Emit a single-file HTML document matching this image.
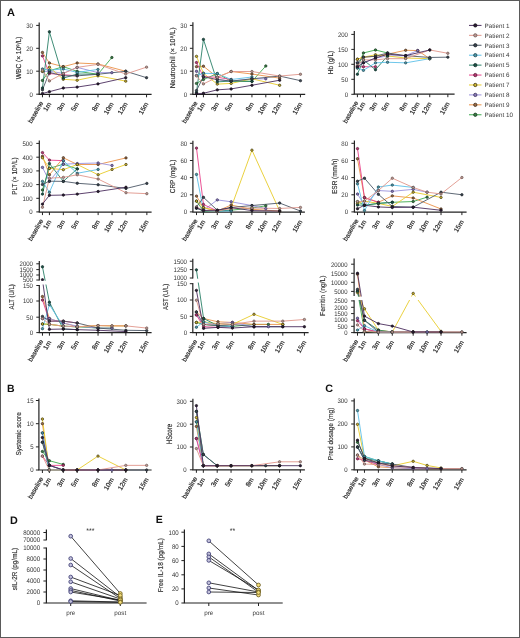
<!DOCTYPE html>
<html><head><meta charset="utf-8"><style>html,body{margin:0;padding:0;background:#fff;}body{position:relative;width:520px;height:638px;overflow:hidden;font-family:"Liberation Sans", sans-serif;}svg{display:block;will-change:transform;filter:blur(0.32px);}#frame{position:absolute;left:0;top:0;width:520px;height:638px;box-sizing:border-box;border:1px solid #5a5a5a;}</style></head><body>
<svg width="520" height="638" viewBox="0 0 520 638" font-family='"Liberation Sans", sans-serif' text-rendering="geometricPrecision">
<defs><clipPath id="clipALT"><rect x="0" y="0" width="520" height="280.8"/><rect x="0" y="284.6" width="520" height="60"/></clipPath><clipPath id="clipAST"><rect x="0" y="0" width="520" height="278.8"/><rect x="0" y="282.6" width="520" height="60"/></clipPath><clipPath id="clipFER"><rect x="0" y="0" width="520" height="296.6"/><rect x="0" y="300.0" width="520" height="60"/></clipPath></defs>
<rect x="0" y="0" width="520" height="638" fill="#fff"/>
<text x="7.00" y="15.90" font-size="11" text-anchor="start" font-weight="bold" fill="#111">A</text>
<text x="7.00" y="391.70" font-size="10.5" text-anchor="start" font-weight="bold" fill="#111">B</text>
<text x="325.30" y="392.20" font-size="10.8" text-anchor="start" font-weight="bold" fill="#111">C</text>
<text x="10.00" y="523.60" font-size="10.8" text-anchor="start" font-weight="bold" fill="#111">D</text>
<text x="155.80" y="523.00" font-size="10.5" text-anchor="start" font-weight="bold" fill="#111">E</text>
<line x1="39.20" y1="22.50" x2="39.20" y2="94.40" stroke="#222" stroke-width="1.2"/>
<line x1="38.60" y1="94.30" x2="151.60" y2="94.30" stroke="#222" stroke-width="1.2"/>
<line x1="36.20" y1="94.20" x2="39.20" y2="94.20" stroke="#222" stroke-width="1.0"/>
<text x="32.90" y="96.60" font-size="6.6" text-anchor="end" font-weight="normal" fill="#333" textLength="3.36" lengthAdjust="spacingAndGlyphs">0</text>
<line x1="36.20" y1="71.20" x2="39.20" y2="71.20" stroke="#222" stroke-width="1.0"/>
<text x="32.90" y="73.60" font-size="6.6" text-anchor="end" font-weight="normal" fill="#333" textLength="6.73" lengthAdjust="spacingAndGlyphs">10</text>
<line x1="36.20" y1="48.30" x2="39.20" y2="48.30" stroke="#222" stroke-width="1.0"/>
<text x="32.90" y="50.70" font-size="6.6" text-anchor="end" font-weight="normal" fill="#333" textLength="6.73" lengthAdjust="spacingAndGlyphs">20</text>
<line x1="36.20" y1="25.40" x2="39.20" y2="25.40" stroke="#222" stroke-width="1.0"/>
<text x="32.90" y="27.80" font-size="6.6" text-anchor="end" font-weight="normal" fill="#333" textLength="6.73" lengthAdjust="spacingAndGlyphs">30</text>
<line x1="42.46" y1="94.30" x2="42.46" y2="97.30" stroke="#222" stroke-width="1.0"/>
<text x="43.66" y="102.80" font-size="6.5" text-anchor="end" font-weight="normal" fill="#262626" transform="rotate(-60 43.66 102.80)" stroke="#262626" stroke-width="0.2">baseline</text>
<line x1="49.40" y1="94.30" x2="49.40" y2="97.30" stroke="#222" stroke-width="1.0"/>
<text x="51.40" y="103.90" font-size="6.6" text-anchor="end" font-weight="normal" fill="#262626" transform="rotate(-60 51.40 103.90)" stroke="#262626" stroke-width="0.2">1m</text>
<line x1="63.28" y1="94.30" x2="63.28" y2="97.30" stroke="#222" stroke-width="1.0"/>
<text x="65.28" y="103.90" font-size="6.6" text-anchor="end" font-weight="normal" fill="#262626" transform="rotate(-60 65.28 103.90)" stroke="#262626" stroke-width="0.2">3m</text>
<line x1="77.16" y1="94.30" x2="77.16" y2="97.30" stroke="#222" stroke-width="1.0"/>
<text x="79.16" y="103.90" font-size="6.6" text-anchor="end" font-weight="normal" fill="#262626" transform="rotate(-60 79.16 103.90)" stroke="#262626" stroke-width="0.2">5m</text>
<line x1="97.98" y1="94.30" x2="97.98" y2="97.30" stroke="#222" stroke-width="1.0"/>
<text x="99.98" y="103.90" font-size="6.6" text-anchor="end" font-weight="normal" fill="#262626" transform="rotate(-60 99.98 103.90)" stroke="#262626" stroke-width="0.2">8m</text>
<line x1="111.86" y1="94.30" x2="111.86" y2="97.30" stroke="#222" stroke-width="1.0"/>
<text x="113.86" y="103.90" font-size="6.6" text-anchor="end" font-weight="normal" fill="#262626" transform="rotate(-60 113.86 103.90)" stroke="#262626" stroke-width="0.2">10m</text>
<line x1="125.74" y1="94.30" x2="125.74" y2="97.30" stroke="#222" stroke-width="1.0"/>
<text x="127.74" y="103.90" font-size="6.6" text-anchor="end" font-weight="normal" fill="#262626" transform="rotate(-60 127.74 103.90)" stroke="#262626" stroke-width="0.2">12m</text>
<line x1="146.56" y1="94.30" x2="146.56" y2="97.30" stroke="#222" stroke-width="1.0"/>
<text x="148.56" y="103.90" font-size="6.6" text-anchor="end" font-weight="normal" fill="#262626" transform="rotate(-60 148.56 103.90)" stroke="#262626" stroke-width="0.2">15m</text>
<text class="yl" x="21.40" y="57.80" font-size="7.2" text-anchor="middle" fill="#2e2e2e" stroke="#2e2e2e" stroke-width="0.16" textLength="42.70" lengthAdjust="spacingAndGlyphs" transform="rotate(-90 21.40 57.80)">WBC (× 10⁹/L)</text>
<path d="M42.46,80.44 L49.40,70.81 L63.28,66.68 L77.16,71.27 L97.98,74.25 L111.86,57.51" fill="none" stroke="#3eaa4e" stroke-width="0.9"/>
<path d="M42.46,52.46 L49.40,63.01 L63.28,66.68 L77.16,63.01 L97.98,63.93 L125.74,71.27" fill="none" stroke="#eb9248" stroke-width="0.9"/>
<path d="M42.46,71.50 L49.40,71.27 L63.28,73.33 L77.16,67.37 L97.98,72.64 L111.86,72.64" fill="none" stroke="#9a92dc" stroke-width="0.9"/>
<path d="M42.46,71.27 L49.40,67.14 L63.28,79.29 L77.16,80.21 L97.98,75.85 L125.74,81.13" fill="none" stroke="#e8cc2a" stroke-width="0.9"/>
<path d="M42.46,55.90 L49.40,73.56 L63.28,74.71 L77.16,75.85" fill="none" stroke="#e8418a" stroke-width="0.9"/>
<path d="M42.46,88.01 L49.40,31.82 L63.28,78.15 L77.16,74.02 L97.98,74.25" fill="none" stroke="#2a8068" stroke-width="0.9"/>
<path d="M42.46,68.97 L49.40,70.12 L63.28,68.97 L77.16,72.41 L97.98,69.43" fill="none" stroke="#5cc0e8" stroke-width="0.9"/>
<path d="M42.46,89.84 L49.40,72.41 L63.28,75.85 L77.16,75.85 L97.98,74.25 L125.74,71.27 L146.56,77.69" fill="none" stroke="#4d5866" stroke-width="0.9"/>
<path d="M42.46,70.12 L49.40,80.90 L63.28,73.56 L77.16,67.37 L97.98,64.39 L125.74,74.02 L146.56,67.14" fill="none" stroke="#e0958a" stroke-width="0.9"/>
<path d="M42.46,93.51 L49.40,91.68 L63.28,88.01 L77.16,87.09 L97.98,83.88 L125.74,77.69" fill="none" stroke="#4b2e5e" stroke-width="0.9"/>
<circle cx="42.46" cy="80.44" r="1.2" fill="#3c7c48" stroke="#173a1e" stroke-width="0.7"/>
<circle cx="49.40" cy="70.81" r="1.2" fill="#3c7c48" stroke="#173a1e" stroke-width="0.7"/>
<circle cx="63.28" cy="66.68" r="1.2" fill="#3c7c48" stroke="#173a1e" stroke-width="0.7"/>
<circle cx="77.16" cy="71.27" r="1.2" fill="#3c7c48" stroke="#173a1e" stroke-width="0.7"/>
<circle cx="97.98" cy="74.25" r="1.2" fill="#3c7c48" stroke="#173a1e" stroke-width="0.7"/>
<circle cx="111.86" cy="57.51" r="1.2" fill="#3c7c48" stroke="#173a1e" stroke-width="0.7"/>
<circle cx="42.46" cy="52.46" r="1.2" fill="#9a6c48" stroke="#3e2a18" stroke-width="0.7"/>
<circle cx="49.40" cy="63.01" r="1.2" fill="#9a6c48" stroke="#3e2a18" stroke-width="0.7"/>
<circle cx="63.28" cy="66.68" r="1.2" fill="#9a6c48" stroke="#3e2a18" stroke-width="0.7"/>
<circle cx="77.16" cy="63.01" r="1.2" fill="#9a6c48" stroke="#3e2a18" stroke-width="0.7"/>
<circle cx="97.98" cy="63.93" r="1.2" fill="#9a6c48" stroke="#3e2a18" stroke-width="0.7"/>
<circle cx="125.74" cy="71.27" r="1.2" fill="#9a6c48" stroke="#3e2a18" stroke-width="0.7"/>
<circle cx="42.46" cy="71.50" r="1.2" fill="#8a7cb4" stroke="#3a3060" stroke-width="0.7"/>
<circle cx="49.40" cy="71.27" r="1.2" fill="#8a7cb4" stroke="#3a3060" stroke-width="0.7"/>
<circle cx="63.28" cy="73.33" r="1.2" fill="#8a7cb4" stroke="#3a3060" stroke-width="0.7"/>
<circle cx="77.16" cy="67.37" r="1.2" fill="#8a7cb4" stroke="#3a3060" stroke-width="0.7"/>
<circle cx="97.98" cy="72.64" r="1.2" fill="#8a7cb4" stroke="#3a3060" stroke-width="0.7"/>
<circle cx="111.86" cy="72.64" r="1.2" fill="#8a7cb4" stroke="#3a3060" stroke-width="0.7"/>
<circle cx="42.46" cy="71.27" r="1.2" fill="#d2b832" stroke="#3a3210" stroke-width="0.7"/>
<circle cx="49.40" cy="67.14" r="1.2" fill="#d2b832" stroke="#3a3210" stroke-width="0.7"/>
<circle cx="63.28" cy="79.29" r="1.2" fill="#d2b832" stroke="#3a3210" stroke-width="0.7"/>
<circle cx="77.16" cy="80.21" r="1.2" fill="#d2b832" stroke="#3a3210" stroke-width="0.7"/>
<circle cx="97.98" cy="75.85" r="1.2" fill="#d2b832" stroke="#3a3210" stroke-width="0.7"/>
<circle cx="125.74" cy="81.13" r="1.2" fill="#d2b832" stroke="#3a3210" stroke-width="0.7"/>
<circle cx="42.46" cy="55.90" r="1.2" fill="#b43a72" stroke="#5a1535" stroke-width="0.7"/>
<circle cx="49.40" cy="73.56" r="1.2" fill="#b43a72" stroke="#5a1535" stroke-width="0.7"/>
<circle cx="63.28" cy="74.71" r="1.2" fill="#b43a72" stroke="#5a1535" stroke-width="0.7"/>
<circle cx="77.16" cy="75.85" r="1.2" fill="#b43a72" stroke="#5a1535" stroke-width="0.7"/>
<circle cx="42.46" cy="88.01" r="1.2" fill="#1e5248" stroke="#0d2a24" stroke-width="0.7"/>
<circle cx="49.40" cy="31.82" r="1.2" fill="#1e5248" stroke="#0d2a24" stroke-width="0.7"/>
<circle cx="63.28" cy="78.15" r="1.2" fill="#1e5248" stroke="#0d2a24" stroke-width="0.7"/>
<circle cx="77.16" cy="74.02" r="1.2" fill="#1e5248" stroke="#0d2a24" stroke-width="0.7"/>
<circle cx="97.98" cy="74.25" r="1.2" fill="#1e5248" stroke="#0d2a24" stroke-width="0.7"/>
<circle cx="42.46" cy="68.97" r="1.2" fill="#4f98a8" stroke="#1d4550" stroke-width="0.7"/>
<circle cx="49.40" cy="70.12" r="1.2" fill="#4f98a8" stroke="#1d4550" stroke-width="0.7"/>
<circle cx="63.28" cy="68.97" r="1.2" fill="#4f98a8" stroke="#1d4550" stroke-width="0.7"/>
<circle cx="77.16" cy="72.41" r="1.2" fill="#4f98a8" stroke="#1d4550" stroke-width="0.7"/>
<circle cx="97.98" cy="69.43" r="1.2" fill="#4f98a8" stroke="#1d4550" stroke-width="0.7"/>
<circle cx="42.46" cy="89.84" r="1.2" fill="#3b4550" stroke="#1c2228" stroke-width="0.7"/>
<circle cx="49.40" cy="72.41" r="1.2" fill="#3b4550" stroke="#1c2228" stroke-width="0.7"/>
<circle cx="63.28" cy="75.85" r="1.2" fill="#3b4550" stroke="#1c2228" stroke-width="0.7"/>
<circle cx="77.16" cy="75.85" r="1.2" fill="#3b4550" stroke="#1c2228" stroke-width="0.7"/>
<circle cx="97.98" cy="74.25" r="1.2" fill="#3b4550" stroke="#1c2228" stroke-width="0.7"/>
<circle cx="125.74" cy="71.27" r="1.2" fill="#3b4550" stroke="#1c2228" stroke-width="0.7"/>
<circle cx="146.56" cy="77.69" r="1.2" fill="#3b4550" stroke="#1c2228" stroke-width="0.7"/>
<circle cx="42.46" cy="70.12" r="1.2" fill="#b99a94" stroke="#6e5450" stroke-width="0.7"/>
<circle cx="49.40" cy="80.90" r="1.2" fill="#b99a94" stroke="#6e5450" stroke-width="0.7"/>
<circle cx="63.28" cy="73.56" r="1.2" fill="#b99a94" stroke="#6e5450" stroke-width="0.7"/>
<circle cx="77.16" cy="67.37" r="1.2" fill="#b99a94" stroke="#6e5450" stroke-width="0.7"/>
<circle cx="97.98" cy="64.39" r="1.2" fill="#b99a94" stroke="#6e5450" stroke-width="0.7"/>
<circle cx="125.74" cy="74.02" r="1.2" fill="#b99a94" stroke="#6e5450" stroke-width="0.7"/>
<circle cx="146.56" cy="67.14" r="1.2" fill="#b99a94" stroke="#6e5450" stroke-width="0.7"/>
<circle cx="42.46" cy="93.51" r="1.2" fill="#2b1d36" stroke="#151018" stroke-width="0.7"/>
<circle cx="49.40" cy="91.68" r="1.2" fill="#2b1d36" stroke="#151018" stroke-width="0.7"/>
<circle cx="63.28" cy="88.01" r="1.2" fill="#2b1d36" stroke="#151018" stroke-width="0.7"/>
<circle cx="77.16" cy="87.09" r="1.2" fill="#2b1d36" stroke="#151018" stroke-width="0.7"/>
<circle cx="97.98" cy="83.88" r="1.2" fill="#2b1d36" stroke="#151018" stroke-width="0.7"/>
<circle cx="125.74" cy="77.69" r="1.2" fill="#2b1d36" stroke="#151018" stroke-width="0.7"/>
<line x1="192.90" y1="22.30" x2="192.90" y2="94.40" stroke="#222" stroke-width="1.2"/>
<line x1="192.30" y1="94.30" x2="305.20" y2="94.30" stroke="#222" stroke-width="1.2"/>
<line x1="189.90" y1="94.20" x2="192.90" y2="94.20" stroke="#222" stroke-width="1.0"/>
<text x="187.10" y="96.60" font-size="6.6" text-anchor="end" font-weight="normal" fill="#333" textLength="3.36" lengthAdjust="spacingAndGlyphs">0</text>
<line x1="189.90" y1="71.20" x2="192.90" y2="71.20" stroke="#222" stroke-width="1.0"/>
<text x="187.10" y="73.60" font-size="6.6" text-anchor="end" font-weight="normal" fill="#333" textLength="6.73" lengthAdjust="spacingAndGlyphs">10</text>
<line x1="189.90" y1="48.30" x2="192.90" y2="48.30" stroke="#222" stroke-width="1.0"/>
<text x="187.10" y="50.70" font-size="6.6" text-anchor="end" font-weight="normal" fill="#333" textLength="6.73" lengthAdjust="spacingAndGlyphs">20</text>
<line x1="189.90" y1="25.40" x2="192.90" y2="25.40" stroke="#222" stroke-width="1.0"/>
<text x="187.10" y="27.80" font-size="6.6" text-anchor="end" font-weight="normal" fill="#333" textLength="6.73" lengthAdjust="spacingAndGlyphs">30</text>
<line x1="196.50" y1="94.30" x2="196.50" y2="97.30" stroke="#222" stroke-width="1.0"/>
<text x="197.70" y="102.80" font-size="6.5" text-anchor="end" font-weight="normal" fill="#262626" transform="rotate(-60 197.70 102.80)" stroke="#262626" stroke-width="0.2">baseline</text>
<line x1="203.43" y1="94.30" x2="203.43" y2="97.30" stroke="#222" stroke-width="1.0"/>
<text x="205.43" y="103.90" font-size="6.6" text-anchor="end" font-weight="normal" fill="#262626" transform="rotate(-60 205.43 103.90)" stroke="#262626" stroke-width="0.2">1m</text>
<line x1="217.29" y1="94.30" x2="217.29" y2="97.30" stroke="#222" stroke-width="1.0"/>
<text x="219.29" y="103.90" font-size="6.6" text-anchor="end" font-weight="normal" fill="#262626" transform="rotate(-60 219.29 103.90)" stroke="#262626" stroke-width="0.2">3m</text>
<line x1="231.15" y1="94.30" x2="231.15" y2="97.30" stroke="#222" stroke-width="1.0"/>
<text x="233.15" y="103.90" font-size="6.6" text-anchor="end" font-weight="normal" fill="#262626" transform="rotate(-60 233.15 103.90)" stroke="#262626" stroke-width="0.2">5m</text>
<line x1="251.94" y1="94.30" x2="251.94" y2="97.30" stroke="#222" stroke-width="1.0"/>
<text x="253.94" y="103.90" font-size="6.6" text-anchor="end" font-weight="normal" fill="#262626" transform="rotate(-60 253.94 103.90)" stroke="#262626" stroke-width="0.2">8m</text>
<line x1="265.80" y1="94.30" x2="265.80" y2="97.30" stroke="#222" stroke-width="1.0"/>
<text x="267.80" y="103.90" font-size="6.6" text-anchor="end" font-weight="normal" fill="#262626" transform="rotate(-60 267.80 103.90)" stroke="#262626" stroke-width="0.2">10m</text>
<line x1="279.66" y1="94.30" x2="279.66" y2="97.30" stroke="#222" stroke-width="1.0"/>
<text x="281.66" y="103.90" font-size="6.6" text-anchor="end" font-weight="normal" fill="#262626" transform="rotate(-60 281.66 103.90)" stroke="#262626" stroke-width="0.2">12m</text>
<line x1="300.45" y1="94.30" x2="300.45" y2="97.30" stroke="#222" stroke-width="1.0"/>
<text x="302.45" y="103.90" font-size="6.6" text-anchor="end" font-weight="normal" fill="#262626" transform="rotate(-60 302.45 103.90)" stroke="#262626" stroke-width="0.2">15m</text>
<text class="yl" x="174.90" y="57.85" font-size="7.2" text-anchor="middle" fill="#2e2e2e" stroke="#2e2e2e" stroke-width="0.16" textLength="60.60" lengthAdjust="spacingAndGlyphs" transform="rotate(-90 174.90 57.85)">Neutrophil (× 10⁹/L)</text>
<path d="M196.50,83.42 L203.43,79.52 L217.29,73.56 L231.15,81.13 L251.94,81.36 L265.80,65.99" fill="none" stroke="#3eaa4e" stroke-width="0.9"/>
<path d="M196.50,66.68 L203.43,66.22 L217.29,77.23 L231.15,71.50 L251.94,74.02 L279.66,78.15" fill="none" stroke="#eb9248" stroke-width="0.9"/>
<path d="M196.50,71.27 L203.43,76.77 L217.29,79.52 L231.15,81.13 L251.94,78.83 L265.80,78.83" fill="none" stroke="#9a92dc" stroke-width="0.9"/>
<path d="M196.50,56.36 L203.43,73.33 L217.29,84.11 L231.15,83.42 L251.94,78.83 L279.66,85.26" fill="none" stroke="#e8cc2a" stroke-width="0.9"/>
<path d="M196.50,62.55 L203.43,76.77 L217.29,77.23 L231.15,79.52" fill="none" stroke="#e8418a" stroke-width="0.9"/>
<path d="M196.50,92.37 L203.43,39.39 L217.29,81.82 L231.15,81.13 L251.94,81.36" fill="none" stroke="#2a8068" stroke-width="0.9"/>
<path d="M196.50,75.39 L203.43,73.33 L217.29,73.56 L231.15,79.52 L251.94,77.00" fill="none" stroke="#5cc0e8" stroke-width="0.9"/>
<path d="M196.50,90.53 L203.43,76.77 L217.29,79.52 L231.15,81.13 L251.94,78.83 L279.66,76.08 L300.45,80.67" fill="none" stroke="#4d5866" stroke-width="0.9"/>
<path d="M196.50,75.85 L203.43,83.88 L217.29,77.23 L231.15,71.50 L251.94,71.50 L279.66,76.08 L300.45,74.25" fill="none" stroke="#e0958a" stroke-width="0.9"/>
<path d="M196.50,93.74 L203.43,93.28 L217.29,89.84 L231.15,88.93 L251.94,85.26 L279.66,80.21" fill="none" stroke="#4b2e5e" stroke-width="0.9"/>
<circle cx="196.50" cy="83.42" r="1.2" fill="#3c7c48" stroke="#173a1e" stroke-width="0.7"/>
<circle cx="203.43" cy="79.52" r="1.2" fill="#3c7c48" stroke="#173a1e" stroke-width="0.7"/>
<circle cx="217.29" cy="73.56" r="1.2" fill="#3c7c48" stroke="#173a1e" stroke-width="0.7"/>
<circle cx="231.15" cy="81.13" r="1.2" fill="#3c7c48" stroke="#173a1e" stroke-width="0.7"/>
<circle cx="251.94" cy="81.36" r="1.2" fill="#3c7c48" stroke="#173a1e" stroke-width="0.7"/>
<circle cx="265.80" cy="65.99" r="1.2" fill="#3c7c48" stroke="#173a1e" stroke-width="0.7"/>
<circle cx="196.50" cy="66.68" r="1.2" fill="#9a6c48" stroke="#3e2a18" stroke-width="0.7"/>
<circle cx="203.43" cy="66.22" r="1.2" fill="#9a6c48" stroke="#3e2a18" stroke-width="0.7"/>
<circle cx="217.29" cy="77.23" r="1.2" fill="#9a6c48" stroke="#3e2a18" stroke-width="0.7"/>
<circle cx="231.15" cy="71.50" r="1.2" fill="#9a6c48" stroke="#3e2a18" stroke-width="0.7"/>
<circle cx="251.94" cy="74.02" r="1.2" fill="#9a6c48" stroke="#3e2a18" stroke-width="0.7"/>
<circle cx="279.66" cy="78.15" r="1.2" fill="#9a6c48" stroke="#3e2a18" stroke-width="0.7"/>
<circle cx="196.50" cy="71.27" r="1.2" fill="#8a7cb4" stroke="#3a3060" stroke-width="0.7"/>
<circle cx="203.43" cy="76.77" r="1.2" fill="#8a7cb4" stroke="#3a3060" stroke-width="0.7"/>
<circle cx="217.29" cy="79.52" r="1.2" fill="#8a7cb4" stroke="#3a3060" stroke-width="0.7"/>
<circle cx="231.15" cy="81.13" r="1.2" fill="#8a7cb4" stroke="#3a3060" stroke-width="0.7"/>
<circle cx="251.94" cy="78.83" r="1.2" fill="#8a7cb4" stroke="#3a3060" stroke-width="0.7"/>
<circle cx="265.80" cy="78.83" r="1.2" fill="#8a7cb4" stroke="#3a3060" stroke-width="0.7"/>
<circle cx="196.50" cy="56.36" r="1.2" fill="#d2b832" stroke="#3a3210" stroke-width="0.7"/>
<circle cx="203.43" cy="73.33" r="1.2" fill="#d2b832" stroke="#3a3210" stroke-width="0.7"/>
<circle cx="217.29" cy="84.11" r="1.2" fill="#d2b832" stroke="#3a3210" stroke-width="0.7"/>
<circle cx="231.15" cy="83.42" r="1.2" fill="#d2b832" stroke="#3a3210" stroke-width="0.7"/>
<circle cx="251.94" cy="78.83" r="1.2" fill="#d2b832" stroke="#3a3210" stroke-width="0.7"/>
<circle cx="279.66" cy="85.26" r="1.2" fill="#d2b832" stroke="#3a3210" stroke-width="0.7"/>
<circle cx="196.50" cy="62.55" r="1.2" fill="#b43a72" stroke="#5a1535" stroke-width="0.7"/>
<circle cx="203.43" cy="76.77" r="1.2" fill="#b43a72" stroke="#5a1535" stroke-width="0.7"/>
<circle cx="217.29" cy="77.23" r="1.2" fill="#b43a72" stroke="#5a1535" stroke-width="0.7"/>
<circle cx="231.15" cy="79.52" r="1.2" fill="#b43a72" stroke="#5a1535" stroke-width="0.7"/>
<circle cx="196.50" cy="92.37" r="1.2" fill="#1e5248" stroke="#0d2a24" stroke-width="0.7"/>
<circle cx="203.43" cy="39.39" r="1.2" fill="#1e5248" stroke="#0d2a24" stroke-width="0.7"/>
<circle cx="217.29" cy="81.82" r="1.2" fill="#1e5248" stroke="#0d2a24" stroke-width="0.7"/>
<circle cx="231.15" cy="81.13" r="1.2" fill="#1e5248" stroke="#0d2a24" stroke-width="0.7"/>
<circle cx="251.94" cy="81.36" r="1.2" fill="#1e5248" stroke="#0d2a24" stroke-width="0.7"/>
<circle cx="196.50" cy="75.39" r="1.2" fill="#4f98a8" stroke="#1d4550" stroke-width="0.7"/>
<circle cx="203.43" cy="73.33" r="1.2" fill="#4f98a8" stroke="#1d4550" stroke-width="0.7"/>
<circle cx="217.29" cy="73.56" r="1.2" fill="#4f98a8" stroke="#1d4550" stroke-width="0.7"/>
<circle cx="231.15" cy="79.52" r="1.2" fill="#4f98a8" stroke="#1d4550" stroke-width="0.7"/>
<circle cx="251.94" cy="77.00" r="1.2" fill="#4f98a8" stroke="#1d4550" stroke-width="0.7"/>
<circle cx="196.50" cy="90.53" r="1.2" fill="#3b4550" stroke="#1c2228" stroke-width="0.7"/>
<circle cx="203.43" cy="76.77" r="1.2" fill="#3b4550" stroke="#1c2228" stroke-width="0.7"/>
<circle cx="217.29" cy="79.52" r="1.2" fill="#3b4550" stroke="#1c2228" stroke-width="0.7"/>
<circle cx="231.15" cy="81.13" r="1.2" fill="#3b4550" stroke="#1c2228" stroke-width="0.7"/>
<circle cx="251.94" cy="78.83" r="1.2" fill="#3b4550" stroke="#1c2228" stroke-width="0.7"/>
<circle cx="279.66" cy="76.08" r="1.2" fill="#3b4550" stroke="#1c2228" stroke-width="0.7"/>
<circle cx="300.45" cy="80.67" r="1.2" fill="#3b4550" stroke="#1c2228" stroke-width="0.7"/>
<circle cx="196.50" cy="75.85" r="1.2" fill="#b99a94" stroke="#6e5450" stroke-width="0.7"/>
<circle cx="203.43" cy="83.88" r="1.2" fill="#b99a94" stroke="#6e5450" stroke-width="0.7"/>
<circle cx="217.29" cy="77.23" r="1.2" fill="#b99a94" stroke="#6e5450" stroke-width="0.7"/>
<circle cx="231.15" cy="71.50" r="1.2" fill="#b99a94" stroke="#6e5450" stroke-width="0.7"/>
<circle cx="251.94" cy="71.50" r="1.2" fill="#b99a94" stroke="#6e5450" stroke-width="0.7"/>
<circle cx="279.66" cy="76.08" r="1.2" fill="#b99a94" stroke="#6e5450" stroke-width="0.7"/>
<circle cx="300.45" cy="74.25" r="1.2" fill="#b99a94" stroke="#6e5450" stroke-width="0.7"/>
<circle cx="196.50" cy="93.74" r="1.2" fill="#2b1d36" stroke="#151018" stroke-width="0.7"/>
<circle cx="203.43" cy="93.28" r="1.2" fill="#2b1d36" stroke="#151018" stroke-width="0.7"/>
<circle cx="217.29" cy="89.84" r="1.2" fill="#2b1d36" stroke="#151018" stroke-width="0.7"/>
<circle cx="231.15" cy="88.93" r="1.2" fill="#2b1d36" stroke="#151018" stroke-width="0.7"/>
<circle cx="251.94" cy="85.26" r="1.2" fill="#2b1d36" stroke="#151018" stroke-width="0.7"/>
<circle cx="279.66" cy="80.21" r="1.2" fill="#2b1d36" stroke="#151018" stroke-width="0.7"/>
<line x1="354.30" y1="31.00" x2="354.30" y2="94.30" stroke="#222" stroke-width="1.2"/>
<line x1="353.70" y1="94.20" x2="454.60" y2="94.20" stroke="#222" stroke-width="1.2"/>
<line x1="351.30" y1="94.30" x2="354.30" y2="94.30" stroke="#222" stroke-width="1.0"/>
<text x="348.00" y="96.70" font-size="6.6" text-anchor="end" font-weight="normal" fill="#333" textLength="3.36" lengthAdjust="spacingAndGlyphs">0</text>
<line x1="351.30" y1="79.30" x2="354.30" y2="79.30" stroke="#222" stroke-width="1.0"/>
<text x="348.00" y="81.70" font-size="6.6" text-anchor="end" font-weight="normal" fill="#333" textLength="6.73" lengthAdjust="spacingAndGlyphs">50</text>
<line x1="351.30" y1="64.30" x2="354.30" y2="64.30" stroke="#222" stroke-width="1.0"/>
<text x="348.00" y="66.70" font-size="6.6" text-anchor="end" font-weight="normal" fill="#333" textLength="10.09" lengthAdjust="spacingAndGlyphs">100</text>
<line x1="351.30" y1="49.40" x2="354.30" y2="49.40" stroke="#222" stroke-width="1.0"/>
<text x="348.00" y="51.80" font-size="6.6" text-anchor="end" font-weight="normal" fill="#333" textLength="10.09" lengthAdjust="spacingAndGlyphs">150</text>
<line x1="351.30" y1="34.40" x2="354.30" y2="34.40" stroke="#222" stroke-width="1.0"/>
<text x="348.00" y="36.80" font-size="6.6" text-anchor="end" font-weight="normal" fill="#333" textLength="10.09" lengthAdjust="spacingAndGlyphs">200</text>
<line x1="357.40" y1="94.20" x2="357.40" y2="97.20" stroke="#222" stroke-width="1.0"/>
<text x="358.60" y="102.70" font-size="6.5" text-anchor="end" font-weight="normal" fill="#262626" transform="rotate(-60 358.60 102.70)" stroke="#262626" stroke-width="0.2">baseline</text>
<line x1="363.43" y1="94.20" x2="363.43" y2="97.20" stroke="#222" stroke-width="1.0"/>
<text x="365.43" y="103.80" font-size="6.6" text-anchor="end" font-weight="normal" fill="#262626" transform="rotate(-60 365.43 103.80)" stroke="#262626" stroke-width="0.2">1m</text>
<line x1="375.49" y1="94.20" x2="375.49" y2="97.20" stroke="#222" stroke-width="1.0"/>
<text x="377.49" y="103.80" font-size="6.6" text-anchor="end" font-weight="normal" fill="#262626" transform="rotate(-60 377.49 103.80)" stroke="#262626" stroke-width="0.2">3m</text>
<line x1="387.55" y1="94.20" x2="387.55" y2="97.20" stroke="#222" stroke-width="1.0"/>
<text x="389.55" y="103.80" font-size="6.6" text-anchor="end" font-weight="normal" fill="#262626" transform="rotate(-60 389.55 103.80)" stroke="#262626" stroke-width="0.2">5m</text>
<line x1="405.64" y1="94.20" x2="405.64" y2="97.20" stroke="#222" stroke-width="1.0"/>
<text x="407.64" y="103.80" font-size="6.6" text-anchor="end" font-weight="normal" fill="#262626" transform="rotate(-60 407.64 103.80)" stroke="#262626" stroke-width="0.2">8m</text>
<line x1="417.70" y1="94.20" x2="417.70" y2="97.20" stroke="#222" stroke-width="1.0"/>
<text x="419.70" y="103.80" font-size="6.6" text-anchor="end" font-weight="normal" fill="#262626" transform="rotate(-60 419.70 103.80)" stroke="#262626" stroke-width="0.2">10m</text>
<line x1="429.76" y1="94.20" x2="429.76" y2="97.20" stroke="#222" stroke-width="1.0"/>
<text x="431.76" y="103.80" font-size="6.6" text-anchor="end" font-weight="normal" fill="#262626" transform="rotate(-60 431.76 103.80)" stroke="#262626" stroke-width="0.2">12m</text>
<line x1="447.85" y1="94.20" x2="447.85" y2="97.20" stroke="#222" stroke-width="1.0"/>
<text x="449.85" y="103.80" font-size="6.6" text-anchor="end" font-weight="normal" fill="#262626" transform="rotate(-60 449.85 103.80)" stroke="#262626" stroke-width="0.2">15m</text>
<text class="yl" x="333.00" y="62.55" font-size="7.2" text-anchor="middle" fill="#2e2e2e" stroke="#2e2e2e" stroke-width="0.16" textLength="23.40" lengthAdjust="spacingAndGlyphs" transform="rotate(-90 333.00 62.55)">Hb (g/L)</text>
<path d="M357.40,67.94 L363.43,52.97 L375.49,49.97 L387.55,52.97" fill="none" stroke="#3eaa4e" stroke-width="0.9"/>
<path d="M357.40,59.26 L363.43,57.16 L375.49,56.26 L387.55,54.17 L405.64,50.27 L417.70,50.57 L429.76,58.66" fill="none" stroke="#eb9248" stroke-width="0.9"/>
<path d="M357.40,62.85 L363.43,62.85 L375.49,58.06 L387.55,55.96 L405.64,55.66 L417.70,50.57" fill="none" stroke="#9a92dc" stroke-width="0.9"/>
<path d="M357.40,59.26 L363.43,57.16 L375.49,54.77 L387.55,55.96 L405.64,58.06 L429.76,58.66" fill="none" stroke="#e8cc2a" stroke-width="0.9"/>
<path d="M357.40,66.75 L363.43,66.75 L375.49,66.75" fill="none" stroke="#e8418a" stroke-width="0.9"/>
<path d="M357.40,74.23 L363.43,59.86 L375.49,69.74 L387.55,55.96" fill="none" stroke="#2a8068" stroke-width="0.9"/>
<path d="M357.40,67.94 L363.43,70.34 L375.49,62.85 L387.55,62.25 L405.64,62.85 L429.76,58.66" fill="none" stroke="#5cc0e8" stroke-width="0.9"/>
<path d="M357.40,62.85 L363.43,57.16 L375.49,56.26 L387.55,52.97 L405.64,55.66 L429.76,57.46 L447.85,57.16" fill="none" stroke="#4d5866" stroke-width="0.9"/>
<path d="M357.40,65.55 L363.43,59.86 L375.49,59.86 L387.55,58.66 L405.64,58.66 L429.76,49.97 L447.85,53.27" fill="none" stroke="#e0958a" stroke-width="0.9"/>
<path d="M357.40,66.75 L363.43,62.85 L375.49,58.06 L387.55,54.17 L405.64,55.66 L429.76,49.97" fill="none" stroke="#4b2e5e" stroke-width="0.9"/>
<circle cx="357.40" cy="67.94" r="1.2" fill="#3c7c48" stroke="#173a1e" stroke-width="0.7"/>
<circle cx="363.43" cy="52.97" r="1.2" fill="#3c7c48" stroke="#173a1e" stroke-width="0.7"/>
<circle cx="375.49" cy="49.97" r="1.2" fill="#3c7c48" stroke="#173a1e" stroke-width="0.7"/>
<circle cx="387.55" cy="52.97" r="1.2" fill="#3c7c48" stroke="#173a1e" stroke-width="0.7"/>
<circle cx="357.40" cy="59.26" r="1.2" fill="#9a6c48" stroke="#3e2a18" stroke-width="0.7"/>
<circle cx="363.43" cy="57.16" r="1.2" fill="#9a6c48" stroke="#3e2a18" stroke-width="0.7"/>
<circle cx="375.49" cy="56.26" r="1.2" fill="#9a6c48" stroke="#3e2a18" stroke-width="0.7"/>
<circle cx="387.55" cy="54.17" r="1.2" fill="#9a6c48" stroke="#3e2a18" stroke-width="0.7"/>
<circle cx="405.64" cy="50.27" r="1.2" fill="#9a6c48" stroke="#3e2a18" stroke-width="0.7"/>
<circle cx="417.70" cy="50.57" r="1.2" fill="#9a6c48" stroke="#3e2a18" stroke-width="0.7"/>
<circle cx="429.76" cy="58.66" r="1.2" fill="#9a6c48" stroke="#3e2a18" stroke-width="0.7"/>
<circle cx="357.40" cy="62.85" r="1.2" fill="#8a7cb4" stroke="#3a3060" stroke-width="0.7"/>
<circle cx="363.43" cy="62.85" r="1.2" fill="#8a7cb4" stroke="#3a3060" stroke-width="0.7"/>
<circle cx="375.49" cy="58.06" r="1.2" fill="#8a7cb4" stroke="#3a3060" stroke-width="0.7"/>
<circle cx="387.55" cy="55.96" r="1.2" fill="#8a7cb4" stroke="#3a3060" stroke-width="0.7"/>
<circle cx="405.64" cy="55.66" r="1.2" fill="#8a7cb4" stroke="#3a3060" stroke-width="0.7"/>
<circle cx="417.70" cy="50.57" r="1.2" fill="#8a7cb4" stroke="#3a3060" stroke-width="0.7"/>
<circle cx="357.40" cy="59.26" r="1.2" fill="#d2b832" stroke="#3a3210" stroke-width="0.7"/>
<circle cx="363.43" cy="57.16" r="1.2" fill="#d2b832" stroke="#3a3210" stroke-width="0.7"/>
<circle cx="375.49" cy="54.77" r="1.2" fill="#d2b832" stroke="#3a3210" stroke-width="0.7"/>
<circle cx="387.55" cy="55.96" r="1.2" fill="#d2b832" stroke="#3a3210" stroke-width="0.7"/>
<circle cx="405.64" cy="58.06" r="1.2" fill="#d2b832" stroke="#3a3210" stroke-width="0.7"/>
<circle cx="429.76" cy="58.66" r="1.2" fill="#d2b832" stroke="#3a3210" stroke-width="0.7"/>
<circle cx="357.40" cy="66.75" r="1.2" fill="#b43a72" stroke="#5a1535" stroke-width="0.7"/>
<circle cx="363.43" cy="66.75" r="1.2" fill="#b43a72" stroke="#5a1535" stroke-width="0.7"/>
<circle cx="375.49" cy="66.75" r="1.2" fill="#b43a72" stroke="#5a1535" stroke-width="0.7"/>
<circle cx="357.40" cy="74.23" r="1.2" fill="#1e5248" stroke="#0d2a24" stroke-width="0.7"/>
<circle cx="363.43" cy="59.86" r="1.2" fill="#1e5248" stroke="#0d2a24" stroke-width="0.7"/>
<circle cx="375.49" cy="69.74" r="1.2" fill="#1e5248" stroke="#0d2a24" stroke-width="0.7"/>
<circle cx="387.55" cy="55.96" r="1.2" fill="#1e5248" stroke="#0d2a24" stroke-width="0.7"/>
<circle cx="357.40" cy="67.94" r="1.2" fill="#4f98a8" stroke="#1d4550" stroke-width="0.7"/>
<circle cx="363.43" cy="70.34" r="1.2" fill="#4f98a8" stroke="#1d4550" stroke-width="0.7"/>
<circle cx="375.49" cy="62.85" r="1.2" fill="#4f98a8" stroke="#1d4550" stroke-width="0.7"/>
<circle cx="387.55" cy="62.25" r="1.2" fill="#4f98a8" stroke="#1d4550" stroke-width="0.7"/>
<circle cx="405.64" cy="62.85" r="1.2" fill="#4f98a8" stroke="#1d4550" stroke-width="0.7"/>
<circle cx="429.76" cy="58.66" r="1.2" fill="#4f98a8" stroke="#1d4550" stroke-width="0.7"/>
<circle cx="357.40" cy="62.85" r="1.2" fill="#3b4550" stroke="#1c2228" stroke-width="0.7"/>
<circle cx="363.43" cy="57.16" r="1.2" fill="#3b4550" stroke="#1c2228" stroke-width="0.7"/>
<circle cx="375.49" cy="56.26" r="1.2" fill="#3b4550" stroke="#1c2228" stroke-width="0.7"/>
<circle cx="387.55" cy="52.97" r="1.2" fill="#3b4550" stroke="#1c2228" stroke-width="0.7"/>
<circle cx="405.64" cy="55.66" r="1.2" fill="#3b4550" stroke="#1c2228" stroke-width="0.7"/>
<circle cx="429.76" cy="57.46" r="1.2" fill="#3b4550" stroke="#1c2228" stroke-width="0.7"/>
<circle cx="447.85" cy="57.16" r="1.2" fill="#3b4550" stroke="#1c2228" stroke-width="0.7"/>
<circle cx="357.40" cy="65.55" r="1.2" fill="#b99a94" stroke="#6e5450" stroke-width="0.7"/>
<circle cx="363.43" cy="59.86" r="1.2" fill="#b99a94" stroke="#6e5450" stroke-width="0.7"/>
<circle cx="375.49" cy="59.86" r="1.2" fill="#b99a94" stroke="#6e5450" stroke-width="0.7"/>
<circle cx="387.55" cy="58.66" r="1.2" fill="#b99a94" stroke="#6e5450" stroke-width="0.7"/>
<circle cx="405.64" cy="58.66" r="1.2" fill="#b99a94" stroke="#6e5450" stroke-width="0.7"/>
<circle cx="429.76" cy="49.97" r="1.2" fill="#b99a94" stroke="#6e5450" stroke-width="0.7"/>
<circle cx="447.85" cy="53.27" r="1.2" fill="#b99a94" stroke="#6e5450" stroke-width="0.7"/>
<circle cx="357.40" cy="66.75" r="1.2" fill="#2b1d36" stroke="#151018" stroke-width="0.7"/>
<circle cx="363.43" cy="62.85" r="1.2" fill="#2b1d36" stroke="#151018" stroke-width="0.7"/>
<circle cx="375.49" cy="58.06" r="1.2" fill="#2b1d36" stroke="#151018" stroke-width="0.7"/>
<circle cx="387.55" cy="54.17" r="1.2" fill="#2b1d36" stroke="#151018" stroke-width="0.7"/>
<circle cx="405.64" cy="55.66" r="1.2" fill="#2b1d36" stroke="#151018" stroke-width="0.7"/>
<circle cx="429.76" cy="49.97" r="1.2" fill="#2b1d36" stroke="#151018" stroke-width="0.7"/>
<line x1="39.30" y1="140.40" x2="39.30" y2="211.90" stroke="#222" stroke-width="1.2"/>
<line x1="38.70" y1="212.10" x2="151.60" y2="212.10" stroke="#222" stroke-width="1.2"/>
<line x1="36.30" y1="211.90" x2="39.30" y2="211.90" stroke="#222" stroke-width="1.0"/>
<text x="32.60" y="214.30" font-size="6.6" text-anchor="end" font-weight="normal" fill="#333" textLength="3.36" lengthAdjust="spacingAndGlyphs">0</text>
<line x1="36.30" y1="198.30" x2="39.30" y2="198.30" stroke="#222" stroke-width="1.0"/>
<text x="32.60" y="200.70" font-size="6.6" text-anchor="end" font-weight="normal" fill="#333" textLength="10.09" lengthAdjust="spacingAndGlyphs">100</text>
<line x1="36.30" y1="184.60" x2="39.30" y2="184.60" stroke="#222" stroke-width="1.0"/>
<text x="32.60" y="187.00" font-size="6.6" text-anchor="end" font-weight="normal" fill="#333" textLength="10.09" lengthAdjust="spacingAndGlyphs">200</text>
<line x1="36.30" y1="170.90" x2="39.30" y2="170.90" stroke="#222" stroke-width="1.0"/>
<text x="32.60" y="173.30" font-size="6.6" text-anchor="end" font-weight="normal" fill="#333" textLength="10.09" lengthAdjust="spacingAndGlyphs">300</text>
<line x1="36.30" y1="157.20" x2="39.30" y2="157.20" stroke="#222" stroke-width="1.0"/>
<text x="32.60" y="159.60" font-size="6.6" text-anchor="end" font-weight="normal" fill="#333" textLength="10.09" lengthAdjust="spacingAndGlyphs">400</text>
<line x1="36.30" y1="143.40" x2="39.30" y2="143.40" stroke="#222" stroke-width="1.0"/>
<text x="32.60" y="145.80" font-size="6.6" text-anchor="end" font-weight="normal" fill="#333" textLength="10.09" lengthAdjust="spacingAndGlyphs">500</text>
<line x1="42.46" y1="212.10" x2="42.46" y2="215.10" stroke="#222" stroke-width="1.0"/>
<text x="43.66" y="220.60" font-size="6.5" text-anchor="end" font-weight="normal" fill="#262626" transform="rotate(-60 43.66 220.60)" stroke="#262626" stroke-width="0.2">baseline</text>
<line x1="49.42" y1="212.10" x2="49.42" y2="215.10" stroke="#222" stroke-width="1.0"/>
<text x="51.42" y="221.70" font-size="6.6" text-anchor="end" font-weight="normal" fill="#262626" transform="rotate(-60 51.42 221.70)" stroke="#262626" stroke-width="0.2">1m</text>
<line x1="63.34" y1="212.10" x2="63.34" y2="215.10" stroke="#222" stroke-width="1.0"/>
<text x="65.34" y="221.70" font-size="6.6" text-anchor="end" font-weight="normal" fill="#262626" transform="rotate(-60 65.34 221.70)" stroke="#262626" stroke-width="0.2">3m</text>
<line x1="77.26" y1="212.10" x2="77.26" y2="215.10" stroke="#222" stroke-width="1.0"/>
<text x="79.26" y="221.70" font-size="6.6" text-anchor="end" font-weight="normal" fill="#262626" transform="rotate(-60 79.26 221.70)" stroke="#262626" stroke-width="0.2">5m</text>
<line x1="98.14" y1="212.10" x2="98.14" y2="215.10" stroke="#222" stroke-width="1.0"/>
<text x="100.14" y="221.70" font-size="6.6" text-anchor="end" font-weight="normal" fill="#262626" transform="rotate(-60 100.14 221.70)" stroke="#262626" stroke-width="0.2">8m</text>
<line x1="112.06" y1="212.10" x2="112.06" y2="215.10" stroke="#222" stroke-width="1.0"/>
<text x="114.06" y="221.70" font-size="6.6" text-anchor="end" font-weight="normal" fill="#262626" transform="rotate(-60 114.06 221.70)" stroke="#262626" stroke-width="0.2">10m</text>
<line x1="125.98" y1="212.10" x2="125.98" y2="215.10" stroke="#222" stroke-width="1.0"/>
<text x="127.98" y="221.70" font-size="6.6" text-anchor="end" font-weight="normal" fill="#262626" transform="rotate(-60 127.98 221.70)" stroke="#262626" stroke-width="0.2">12m</text>
<line x1="146.86" y1="212.10" x2="146.86" y2="215.10" stroke="#222" stroke-width="1.0"/>
<text x="148.86" y="221.70" font-size="6.6" text-anchor="end" font-weight="normal" fill="#262626" transform="rotate(-60 148.86 221.70)" stroke="#262626" stroke-width="0.2">15m</text>
<text class="yl" x="17.20" y="176.10" font-size="7.2" text-anchor="middle" fill="#2e2e2e" stroke="#2e2e2e" stroke-width="0.16" textLength="37.30" lengthAdjust="spacingAndGlyphs" transform="rotate(-90 17.20 176.10)">PLT (× 10⁹/L)</text>
<path d="M42.46,189.98 L49.42,168.33 L63.34,164.22 L77.26,168.88" fill="none" stroke="#3eaa4e" stroke-width="0.9"/>
<path d="M42.46,156.28 L49.42,174.77 L63.34,157.78 L77.26,164.50 L98.14,164.50 L125.98,157.92" fill="none" stroke="#eb9248" stroke-width="0.9"/>
<path d="M42.46,167.38 L49.42,181.21 L63.34,164.22 L77.26,163.54 L98.14,162.99 L112.06,165.46" fill="none" stroke="#9a92dc" stroke-width="0.9"/>
<path d="M42.46,157.78 L49.42,168.33 L63.34,169.70 L77.26,164.50 L98.14,174.77 L112.06,169.43 L125.98,164.50" fill="none" stroke="#e8cc2a" stroke-width="0.9"/>
<path d="M42.46,152.58 L49.42,160.11 L63.34,160.66" fill="none" stroke="#e8418a" stroke-width="0.9"/>
<path d="M42.46,194.09 L49.42,163.54 L63.34,181.35 L77.26,168.88" fill="none" stroke="#2a8068" stroke-width="0.9"/>
<path d="M42.46,181.35 L49.42,192.31 L63.34,160.66 L77.26,173.27 L98.14,169.43" fill="none" stroke="#5cc0e8" stroke-width="0.9"/>
<path d="M42.46,184.50 L49.42,181.21 L63.34,181.35 L77.26,183.27 L98.14,184.77 L125.98,188.47 L146.86,183.40" fill="none" stroke="#4d5866" stroke-width="0.9"/>
<path d="M42.46,207.24 L49.42,178.20 L63.34,177.38 L77.26,174.77 L98.14,179.02 L125.98,192.72 L146.86,193.68" fill="none" stroke="#e0958a" stroke-width="0.9"/>
<path d="M42.46,204.09 L49.42,195.32 L63.34,195.05 L77.26,194.09 L98.14,191.49 L125.98,187.24" fill="none" stroke="#4b2e5e" stroke-width="0.9"/>
<circle cx="42.46" cy="189.98" r="1.2" fill="#3c7c48" stroke="#173a1e" stroke-width="0.7"/>
<circle cx="49.42" cy="168.33" r="1.2" fill="#3c7c48" stroke="#173a1e" stroke-width="0.7"/>
<circle cx="63.34" cy="164.22" r="1.2" fill="#3c7c48" stroke="#173a1e" stroke-width="0.7"/>
<circle cx="77.26" cy="168.88" r="1.2" fill="#3c7c48" stroke="#173a1e" stroke-width="0.7"/>
<circle cx="42.46" cy="156.28" r="1.2" fill="#9a6c48" stroke="#3e2a18" stroke-width="0.7"/>
<circle cx="49.42" cy="174.77" r="1.2" fill="#9a6c48" stroke="#3e2a18" stroke-width="0.7"/>
<circle cx="63.34" cy="157.78" r="1.2" fill="#9a6c48" stroke="#3e2a18" stroke-width="0.7"/>
<circle cx="77.26" cy="164.50" r="1.2" fill="#9a6c48" stroke="#3e2a18" stroke-width="0.7"/>
<circle cx="98.14" cy="164.50" r="1.2" fill="#9a6c48" stroke="#3e2a18" stroke-width="0.7"/>
<circle cx="125.98" cy="157.92" r="1.2" fill="#9a6c48" stroke="#3e2a18" stroke-width="0.7"/>
<circle cx="42.46" cy="167.38" r="1.2" fill="#8a7cb4" stroke="#3a3060" stroke-width="0.7"/>
<circle cx="49.42" cy="181.21" r="1.2" fill="#8a7cb4" stroke="#3a3060" stroke-width="0.7"/>
<circle cx="63.34" cy="164.22" r="1.2" fill="#8a7cb4" stroke="#3a3060" stroke-width="0.7"/>
<circle cx="77.26" cy="163.54" r="1.2" fill="#8a7cb4" stroke="#3a3060" stroke-width="0.7"/>
<circle cx="98.14" cy="162.99" r="1.2" fill="#8a7cb4" stroke="#3a3060" stroke-width="0.7"/>
<circle cx="112.06" cy="165.46" r="1.2" fill="#8a7cb4" stroke="#3a3060" stroke-width="0.7"/>
<circle cx="42.46" cy="157.78" r="1.2" fill="#d2b832" stroke="#3a3210" stroke-width="0.7"/>
<circle cx="49.42" cy="168.33" r="1.2" fill="#d2b832" stroke="#3a3210" stroke-width="0.7"/>
<circle cx="63.34" cy="169.70" r="1.2" fill="#d2b832" stroke="#3a3210" stroke-width="0.7"/>
<circle cx="77.26" cy="164.50" r="1.2" fill="#d2b832" stroke="#3a3210" stroke-width="0.7"/>
<circle cx="98.14" cy="174.77" r="1.2" fill="#d2b832" stroke="#3a3210" stroke-width="0.7"/>
<circle cx="112.06" cy="169.43" r="1.2" fill="#d2b832" stroke="#3a3210" stroke-width="0.7"/>
<circle cx="125.98" cy="164.50" r="1.2" fill="#d2b832" stroke="#3a3210" stroke-width="0.7"/>
<circle cx="42.46" cy="152.58" r="1.2" fill="#b43a72" stroke="#5a1535" stroke-width="0.7"/>
<circle cx="49.42" cy="160.11" r="1.2" fill="#b43a72" stroke="#5a1535" stroke-width="0.7"/>
<circle cx="63.34" cy="160.66" r="1.2" fill="#b43a72" stroke="#5a1535" stroke-width="0.7"/>
<circle cx="42.46" cy="194.09" r="1.2" fill="#1e5248" stroke="#0d2a24" stroke-width="0.7"/>
<circle cx="49.42" cy="163.54" r="1.2" fill="#1e5248" stroke="#0d2a24" stroke-width="0.7"/>
<circle cx="63.34" cy="181.35" r="1.2" fill="#1e5248" stroke="#0d2a24" stroke-width="0.7"/>
<circle cx="77.26" cy="168.88" r="1.2" fill="#1e5248" stroke="#0d2a24" stroke-width="0.7"/>
<circle cx="42.46" cy="181.35" r="1.2" fill="#4f98a8" stroke="#1d4550" stroke-width="0.7"/>
<circle cx="49.42" cy="192.31" r="1.2" fill="#4f98a8" stroke="#1d4550" stroke-width="0.7"/>
<circle cx="63.34" cy="160.66" r="1.2" fill="#4f98a8" stroke="#1d4550" stroke-width="0.7"/>
<circle cx="77.26" cy="173.27" r="1.2" fill="#4f98a8" stroke="#1d4550" stroke-width="0.7"/>
<circle cx="98.14" cy="169.43" r="1.2" fill="#4f98a8" stroke="#1d4550" stroke-width="0.7"/>
<circle cx="42.46" cy="184.50" r="1.2" fill="#3b4550" stroke="#1c2228" stroke-width="0.7"/>
<circle cx="49.42" cy="181.21" r="1.2" fill="#3b4550" stroke="#1c2228" stroke-width="0.7"/>
<circle cx="63.34" cy="181.35" r="1.2" fill="#3b4550" stroke="#1c2228" stroke-width="0.7"/>
<circle cx="77.26" cy="183.27" r="1.2" fill="#3b4550" stroke="#1c2228" stroke-width="0.7"/>
<circle cx="98.14" cy="184.77" r="1.2" fill="#3b4550" stroke="#1c2228" stroke-width="0.7"/>
<circle cx="125.98" cy="188.47" r="1.2" fill="#3b4550" stroke="#1c2228" stroke-width="0.7"/>
<circle cx="146.86" cy="183.40" r="1.2" fill="#3b4550" stroke="#1c2228" stroke-width="0.7"/>
<circle cx="42.46" cy="207.24" r="1.2" fill="#b99a94" stroke="#6e5450" stroke-width="0.7"/>
<circle cx="49.42" cy="178.20" r="1.2" fill="#b99a94" stroke="#6e5450" stroke-width="0.7"/>
<circle cx="63.34" cy="177.38" r="1.2" fill="#b99a94" stroke="#6e5450" stroke-width="0.7"/>
<circle cx="77.26" cy="174.77" r="1.2" fill="#b99a94" stroke="#6e5450" stroke-width="0.7"/>
<circle cx="98.14" cy="179.02" r="1.2" fill="#b99a94" stroke="#6e5450" stroke-width="0.7"/>
<circle cx="125.98" cy="192.72" r="1.2" fill="#b99a94" stroke="#6e5450" stroke-width="0.7"/>
<circle cx="146.86" cy="193.68" r="1.2" fill="#b99a94" stroke="#6e5450" stroke-width="0.7"/>
<circle cx="42.46" cy="204.09" r="1.2" fill="#2b1d36" stroke="#151018" stroke-width="0.7"/>
<circle cx="49.42" cy="195.32" r="1.2" fill="#2b1d36" stroke="#151018" stroke-width="0.7"/>
<circle cx="63.34" cy="195.05" r="1.2" fill="#2b1d36" stroke="#151018" stroke-width="0.7"/>
<circle cx="77.26" cy="194.09" r="1.2" fill="#2b1d36" stroke="#151018" stroke-width="0.7"/>
<circle cx="98.14" cy="191.49" r="1.2" fill="#2b1d36" stroke="#151018" stroke-width="0.7"/>
<circle cx="125.98" cy="187.24" r="1.2" fill="#2b1d36" stroke="#151018" stroke-width="0.7"/>
<line x1="192.90" y1="140.70" x2="192.90" y2="211.90" stroke="#222" stroke-width="1.2"/>
<line x1="192.30" y1="212.10" x2="304.90" y2="212.10" stroke="#222" stroke-width="1.2"/>
<line x1="189.90" y1="211.90" x2="192.90" y2="211.90" stroke="#222" stroke-width="1.0"/>
<text x="187.20" y="214.30" font-size="6.6" text-anchor="end" font-weight="normal" fill="#333" textLength="3.36" lengthAdjust="spacingAndGlyphs">0</text>
<line x1="189.90" y1="194.80" x2="192.90" y2="194.80" stroke="#222" stroke-width="1.0"/>
<text x="187.20" y="197.20" font-size="6.6" text-anchor="end" font-weight="normal" fill="#333" textLength="6.73" lengthAdjust="spacingAndGlyphs">20</text>
<line x1="189.90" y1="177.60" x2="192.90" y2="177.60" stroke="#222" stroke-width="1.0"/>
<text x="187.20" y="180.00" font-size="6.6" text-anchor="end" font-weight="normal" fill="#333" textLength="6.73" lengthAdjust="spacingAndGlyphs">40</text>
<line x1="189.90" y1="160.50" x2="192.90" y2="160.50" stroke="#222" stroke-width="1.0"/>
<text x="187.20" y="162.90" font-size="6.6" text-anchor="end" font-weight="normal" fill="#333" textLength="6.73" lengthAdjust="spacingAndGlyphs">60</text>
<line x1="189.90" y1="143.30" x2="192.90" y2="143.30" stroke="#222" stroke-width="1.0"/>
<text x="187.20" y="145.70" font-size="6.6" text-anchor="end" font-weight="normal" fill="#333" textLength="6.73" lengthAdjust="spacingAndGlyphs">80</text>
<line x1="196.50" y1="212.10" x2="196.50" y2="215.10" stroke="#222" stroke-width="1.0"/>
<text x="197.70" y="220.60" font-size="6.5" text-anchor="end" font-weight="normal" fill="#262626" transform="rotate(-60 197.70 220.60)" stroke="#262626" stroke-width="0.2">baseline</text>
<line x1="203.43" y1="212.10" x2="203.43" y2="215.10" stroke="#222" stroke-width="1.0"/>
<text x="205.43" y="221.70" font-size="6.6" text-anchor="end" font-weight="normal" fill="#262626" transform="rotate(-60 205.43 221.70)" stroke="#262626" stroke-width="0.2">1m</text>
<line x1="217.29" y1="212.10" x2="217.29" y2="215.10" stroke="#222" stroke-width="1.0"/>
<text x="219.29" y="221.70" font-size="6.6" text-anchor="end" font-weight="normal" fill="#262626" transform="rotate(-60 219.29 221.70)" stroke="#262626" stroke-width="0.2">3m</text>
<line x1="231.15" y1="212.10" x2="231.15" y2="215.10" stroke="#222" stroke-width="1.0"/>
<text x="233.15" y="221.70" font-size="6.6" text-anchor="end" font-weight="normal" fill="#262626" transform="rotate(-60 233.15 221.70)" stroke="#262626" stroke-width="0.2">5m</text>
<line x1="251.94" y1="212.10" x2="251.94" y2="215.10" stroke="#222" stroke-width="1.0"/>
<text x="253.94" y="221.70" font-size="6.6" text-anchor="end" font-weight="normal" fill="#262626" transform="rotate(-60 253.94 221.70)" stroke="#262626" stroke-width="0.2">8m</text>
<line x1="265.80" y1="212.10" x2="265.80" y2="215.10" stroke="#222" stroke-width="1.0"/>
<text x="267.80" y="221.70" font-size="6.6" text-anchor="end" font-weight="normal" fill="#262626" transform="rotate(-60 267.80 221.70)" stroke="#262626" stroke-width="0.2">10m</text>
<line x1="279.66" y1="212.10" x2="279.66" y2="215.10" stroke="#222" stroke-width="1.0"/>
<text x="281.66" y="221.70" font-size="6.6" text-anchor="end" font-weight="normal" fill="#262626" transform="rotate(-60 281.66 221.70)" stroke="#262626" stroke-width="0.2">12m</text>
<line x1="300.45" y1="212.10" x2="300.45" y2="215.10" stroke="#222" stroke-width="1.0"/>
<text x="302.45" y="221.70" font-size="6.6" text-anchor="end" font-weight="normal" fill="#262626" transform="rotate(-60 302.45 221.70)" stroke="#262626" stroke-width="0.2">15m</text>
<text class="yl" x="175.00" y="176.45" font-size="7.2" text-anchor="middle" fill="#2e2e2e" stroke="#2e2e2e" stroke-width="0.16" textLength="33.40" lengthAdjust="spacingAndGlyphs" transform="rotate(-90 175.00 176.45)">CRP (mg/L)</text>
<path d="M196.50,201.10 L203.43,211.04 L217.29,211.04 L231.15,210.19 L251.94,208.04 L265.80,205.81" fill="none" stroke="#3eaa4e" stroke-width="0.9"/>
<path d="M196.50,196.12 L203.43,207.61 L217.29,211.04 L231.15,205.04 L251.94,209.33 L279.66,211.04" fill="none" stroke="#eb9248" stroke-width="0.9"/>
<path d="M196.50,207.61 L203.43,210.44 L217.29,199.90 L231.15,201.78 L251.94,205.55 L265.80,208.64" fill="none" stroke="#9a92dc" stroke-width="0.9"/>
<path d="M196.50,201.10 L203.43,207.61 L217.29,211.04 L231.15,207.61 L251.94,150.16 L279.66,211.04" fill="none" stroke="#e8cc2a" stroke-width="0.9"/>
<path d="M196.50,148.10 L203.43,204.44 L217.29,211.04" fill="none" stroke="#e8418a" stroke-width="0.9"/>
<path d="M196.50,208.13 L203.43,211.04 L217.29,211.04 L231.15,210.19" fill="none" stroke="#2a8068" stroke-width="0.9"/>
<path d="M196.50,174.43 L203.43,210.44 L217.29,211.04 L231.15,211.04" fill="none" stroke="#5cc0e8" stroke-width="0.9"/>
<path d="M196.50,207.01 L203.43,197.32 L217.29,210.19 L231.15,207.53 L251.94,205.55 L279.66,203.07 L300.45,211.04" fill="none" stroke="#4d5866" stroke-width="0.9"/>
<path d="M196.50,207.01 L203.43,210.44 L217.29,211.04 L231.15,208.47 L251.94,208.04 L279.66,208.47 L300.45,207.44" fill="none" stroke="#e0958a" stroke-width="0.9"/>
<path d="M196.50,208.13 L203.43,210.44 L217.29,210.19 L231.15,207.53 L251.94,210.61 L279.66,211.04" fill="none" stroke="#4b2e5e" stroke-width="0.9"/>
<circle cx="196.50" cy="201.10" r="1.2" fill="#3c7c48" stroke="#173a1e" stroke-width="0.7"/>
<circle cx="203.43" cy="211.04" r="1.2" fill="#3c7c48" stroke="#173a1e" stroke-width="0.7"/>
<circle cx="217.29" cy="211.04" r="1.2" fill="#3c7c48" stroke="#173a1e" stroke-width="0.7"/>
<circle cx="231.15" cy="210.19" r="1.2" fill="#3c7c48" stroke="#173a1e" stroke-width="0.7"/>
<circle cx="251.94" cy="208.04" r="1.2" fill="#3c7c48" stroke="#173a1e" stroke-width="0.7"/>
<circle cx="265.80" cy="205.81" r="1.2" fill="#3c7c48" stroke="#173a1e" stroke-width="0.7"/>
<circle cx="196.50" cy="196.12" r="1.2" fill="#9a6c48" stroke="#3e2a18" stroke-width="0.7"/>
<circle cx="203.43" cy="207.61" r="1.2" fill="#9a6c48" stroke="#3e2a18" stroke-width="0.7"/>
<circle cx="217.29" cy="211.04" r="1.2" fill="#9a6c48" stroke="#3e2a18" stroke-width="0.7"/>
<circle cx="231.15" cy="205.04" r="1.2" fill="#9a6c48" stroke="#3e2a18" stroke-width="0.7"/>
<circle cx="251.94" cy="209.33" r="1.2" fill="#9a6c48" stroke="#3e2a18" stroke-width="0.7"/>
<circle cx="279.66" cy="211.04" r="1.2" fill="#9a6c48" stroke="#3e2a18" stroke-width="0.7"/>
<circle cx="196.50" cy="207.61" r="1.2" fill="#8a7cb4" stroke="#3a3060" stroke-width="0.7"/>
<circle cx="203.43" cy="210.44" r="1.2" fill="#8a7cb4" stroke="#3a3060" stroke-width="0.7"/>
<circle cx="217.29" cy="199.90" r="1.2" fill="#8a7cb4" stroke="#3a3060" stroke-width="0.7"/>
<circle cx="231.15" cy="201.78" r="1.2" fill="#8a7cb4" stroke="#3a3060" stroke-width="0.7"/>
<circle cx="251.94" cy="205.55" r="1.2" fill="#8a7cb4" stroke="#3a3060" stroke-width="0.7"/>
<circle cx="265.80" cy="208.64" r="1.2" fill="#8a7cb4" stroke="#3a3060" stroke-width="0.7"/>
<circle cx="196.50" cy="201.10" r="1.2" fill="#d2b832" stroke="#3a3210" stroke-width="0.7"/>
<circle cx="203.43" cy="207.61" r="1.2" fill="#d2b832" stroke="#3a3210" stroke-width="0.7"/>
<circle cx="217.29" cy="211.04" r="1.2" fill="#d2b832" stroke="#3a3210" stroke-width="0.7"/>
<circle cx="231.15" cy="207.61" r="1.2" fill="#d2b832" stroke="#3a3210" stroke-width="0.7"/>
<circle cx="251.94" cy="150.16" r="1.2" fill="#d2b832" stroke="#3a3210" stroke-width="0.7"/>
<circle cx="279.66" cy="211.04" r="1.2" fill="#d2b832" stroke="#3a3210" stroke-width="0.7"/>
<circle cx="196.50" cy="148.10" r="1.2" fill="#b43a72" stroke="#5a1535" stroke-width="0.7"/>
<circle cx="203.43" cy="204.44" r="1.2" fill="#b43a72" stroke="#5a1535" stroke-width="0.7"/>
<circle cx="217.29" cy="211.04" r="1.2" fill="#b43a72" stroke="#5a1535" stroke-width="0.7"/>
<circle cx="196.50" cy="208.13" r="1.2" fill="#1e5248" stroke="#0d2a24" stroke-width="0.7"/>
<circle cx="203.43" cy="211.04" r="1.2" fill="#1e5248" stroke="#0d2a24" stroke-width="0.7"/>
<circle cx="217.29" cy="211.04" r="1.2" fill="#1e5248" stroke="#0d2a24" stroke-width="0.7"/>
<circle cx="231.15" cy="210.19" r="1.2" fill="#1e5248" stroke="#0d2a24" stroke-width="0.7"/>
<circle cx="196.50" cy="174.43" r="1.2" fill="#4f98a8" stroke="#1d4550" stroke-width="0.7"/>
<circle cx="203.43" cy="210.44" r="1.2" fill="#4f98a8" stroke="#1d4550" stroke-width="0.7"/>
<circle cx="217.29" cy="211.04" r="1.2" fill="#4f98a8" stroke="#1d4550" stroke-width="0.7"/>
<circle cx="231.15" cy="211.04" r="1.2" fill="#4f98a8" stroke="#1d4550" stroke-width="0.7"/>
<circle cx="196.50" cy="207.01" r="1.2" fill="#3b4550" stroke="#1c2228" stroke-width="0.7"/>
<circle cx="203.43" cy="197.32" r="1.2" fill="#3b4550" stroke="#1c2228" stroke-width="0.7"/>
<circle cx="217.29" cy="210.19" r="1.2" fill="#3b4550" stroke="#1c2228" stroke-width="0.7"/>
<circle cx="231.15" cy="207.53" r="1.2" fill="#3b4550" stroke="#1c2228" stroke-width="0.7"/>
<circle cx="251.94" cy="205.55" r="1.2" fill="#3b4550" stroke="#1c2228" stroke-width="0.7"/>
<circle cx="279.66" cy="203.07" r="1.2" fill="#3b4550" stroke="#1c2228" stroke-width="0.7"/>
<circle cx="300.45" cy="211.04" r="1.2" fill="#3b4550" stroke="#1c2228" stroke-width="0.7"/>
<circle cx="196.50" cy="207.01" r="1.2" fill="#b99a94" stroke="#6e5450" stroke-width="0.7"/>
<circle cx="203.43" cy="210.44" r="1.2" fill="#b99a94" stroke="#6e5450" stroke-width="0.7"/>
<circle cx="217.29" cy="211.04" r="1.2" fill="#b99a94" stroke="#6e5450" stroke-width="0.7"/>
<circle cx="231.15" cy="208.47" r="1.2" fill="#b99a94" stroke="#6e5450" stroke-width="0.7"/>
<circle cx="251.94" cy="208.04" r="1.2" fill="#b99a94" stroke="#6e5450" stroke-width="0.7"/>
<circle cx="279.66" cy="208.47" r="1.2" fill="#b99a94" stroke="#6e5450" stroke-width="0.7"/>
<circle cx="300.45" cy="207.44" r="1.2" fill="#b99a94" stroke="#6e5450" stroke-width="0.7"/>
<circle cx="196.50" cy="208.13" r="1.2" fill="#2b1d36" stroke="#151018" stroke-width="0.7"/>
<circle cx="203.43" cy="210.44" r="1.2" fill="#2b1d36" stroke="#151018" stroke-width="0.7"/>
<circle cx="217.29" cy="210.19" r="1.2" fill="#2b1d36" stroke="#151018" stroke-width="0.7"/>
<circle cx="231.15" cy="207.53" r="1.2" fill="#2b1d36" stroke="#151018" stroke-width="0.7"/>
<circle cx="251.94" cy="210.61" r="1.2" fill="#2b1d36" stroke="#151018" stroke-width="0.7"/>
<circle cx="279.66" cy="211.04" r="1.2" fill="#2b1d36" stroke="#151018" stroke-width="0.7"/>
<line x1="354.40" y1="140.40" x2="354.40" y2="211.90" stroke="#222" stroke-width="1.2"/>
<line x1="353.80" y1="212.10" x2="466.60" y2="212.10" stroke="#222" stroke-width="1.2"/>
<line x1="351.40" y1="211.90" x2="354.40" y2="211.90" stroke="#222" stroke-width="1.0"/>
<text x="348.00" y="214.30" font-size="6.6" text-anchor="end" font-weight="normal" fill="#333" textLength="3.36" lengthAdjust="spacingAndGlyphs">0</text>
<line x1="351.40" y1="194.80" x2="354.40" y2="194.80" stroke="#222" stroke-width="1.0"/>
<text x="348.00" y="197.20" font-size="6.6" text-anchor="end" font-weight="normal" fill="#333" textLength="6.73" lengthAdjust="spacingAndGlyphs">20</text>
<line x1="351.40" y1="177.60" x2="354.40" y2="177.60" stroke="#222" stroke-width="1.0"/>
<text x="348.00" y="180.00" font-size="6.6" text-anchor="end" font-weight="normal" fill="#333" textLength="6.73" lengthAdjust="spacingAndGlyphs">40</text>
<line x1="351.40" y1="160.50" x2="354.40" y2="160.50" stroke="#222" stroke-width="1.0"/>
<text x="348.00" y="162.90" font-size="6.6" text-anchor="end" font-weight="normal" fill="#333" textLength="6.73" lengthAdjust="spacingAndGlyphs">60</text>
<line x1="351.40" y1="143.30" x2="354.40" y2="143.30" stroke="#222" stroke-width="1.0"/>
<text x="348.00" y="145.70" font-size="6.6" text-anchor="end" font-weight="normal" fill="#333" textLength="6.73" lengthAdjust="spacingAndGlyphs">80</text>
<line x1="357.50" y1="212.10" x2="357.50" y2="215.10" stroke="#222" stroke-width="1.0"/>
<text x="358.70" y="220.60" font-size="6.5" text-anchor="end" font-weight="normal" fill="#262626" transform="rotate(-60 358.70 220.60)" stroke="#262626" stroke-width="0.2">baseline</text>
<line x1="364.46" y1="212.10" x2="364.46" y2="215.10" stroke="#222" stroke-width="1.0"/>
<text x="366.46" y="221.70" font-size="6.6" text-anchor="end" font-weight="normal" fill="#262626" transform="rotate(-60 366.46 221.70)" stroke="#262626" stroke-width="0.2">1m</text>
<line x1="378.38" y1="212.10" x2="378.38" y2="215.10" stroke="#222" stroke-width="1.0"/>
<text x="380.38" y="221.70" font-size="6.6" text-anchor="end" font-weight="normal" fill="#262626" transform="rotate(-60 380.38 221.70)" stroke="#262626" stroke-width="0.2">3m</text>
<line x1="392.30" y1="212.10" x2="392.30" y2="215.10" stroke="#222" stroke-width="1.0"/>
<text x="394.30" y="221.70" font-size="6.6" text-anchor="end" font-weight="normal" fill="#262626" transform="rotate(-60 394.30 221.70)" stroke="#262626" stroke-width="0.2">5m</text>
<line x1="413.18" y1="212.10" x2="413.18" y2="215.10" stroke="#222" stroke-width="1.0"/>
<text x="415.18" y="221.70" font-size="6.6" text-anchor="end" font-weight="normal" fill="#262626" transform="rotate(-60 415.18 221.70)" stroke="#262626" stroke-width="0.2">8m</text>
<line x1="427.10" y1="212.10" x2="427.10" y2="215.10" stroke="#222" stroke-width="1.0"/>
<text x="429.10" y="221.70" font-size="6.6" text-anchor="end" font-weight="normal" fill="#262626" transform="rotate(-60 429.10 221.70)" stroke="#262626" stroke-width="0.2">10m</text>
<line x1="441.02" y1="212.10" x2="441.02" y2="215.10" stroke="#222" stroke-width="1.0"/>
<text x="443.02" y="221.70" font-size="6.6" text-anchor="end" font-weight="normal" fill="#262626" transform="rotate(-60 443.02 221.70)" stroke="#262626" stroke-width="0.2">12m</text>
<line x1="461.90" y1="212.10" x2="461.90" y2="215.10" stroke="#222" stroke-width="1.0"/>
<text x="463.90" y="221.70" font-size="6.6" text-anchor="end" font-weight="normal" fill="#262626" transform="rotate(-60 463.90 221.70)" stroke="#262626" stroke-width="0.2">15m</text>
<text class="yl" x="336.50" y="176.25" font-size="7.2" text-anchor="middle" fill="#2e2e2e" stroke="#2e2e2e" stroke-width="0.16" textLength="35.40" lengthAdjust="spacingAndGlyphs" transform="rotate(-90 336.50 176.25)">ESR (mm/h)</text>
<path d="M357.50,201.61 L364.46,205.21 L378.38,203.41 L392.30,202.30 L413.18,201.52 L427.10,197.15" fill="none" stroke="#3eaa4e" stroke-width="0.9"/>
<path d="M357.50,158.74 L364.46,197.58 L378.38,202.30 L392.30,195.86 L413.18,198.01 L441.02,208.98" fill="none" stroke="#eb9248" stroke-width="0.9"/>
<path d="M357.50,194.06 L364.46,205.21 L378.38,190.55 L392.30,191.32 L413.18,189.35 L427.10,192.18" fill="none" stroke="#9a92dc" stroke-width="0.9"/>
<path d="M357.50,203.33 L364.46,201.10 L378.38,203.41 L392.30,206.41 L413.18,192.18 L441.02,197.41" fill="none" stroke="#e8cc2a" stroke-width="0.9"/>
<path d="M357.50,148.62 L364.46,197.58 L378.38,202.30" fill="none" stroke="#e8418a" stroke-width="0.9"/>
<path d="M357.50,205.04 L364.46,205.21 L378.38,203.41 L392.30,202.30" fill="none" stroke="#2a8068" stroke-width="0.9"/>
<path d="M357.50,183.77 L364.46,210.53 L378.38,187.03 L392.30,185.06 L413.18,187.46" fill="none" stroke="#5cc0e8" stroke-width="0.9"/>
<path d="M357.50,181.20 L364.46,178.20 L378.38,194.32 L392.30,206.41 L413.18,207.18 L441.02,192.18 L461.90,194.75" fill="none" stroke="#4d5866" stroke-width="0.9"/>
<path d="M357.50,201.61 L364.46,201.10 L378.38,190.55 L392.30,178.20 L413.18,187.46 L427.10,192.18 L441.02,193.98 L461.90,177.51" fill="none" stroke="#e0958a" stroke-width="0.9"/>
<path d="M357.50,208.73 L364.46,205.21 L378.38,206.93 L392.30,207.53 L413.18,207.18 L441.02,210.27" fill="none" stroke="#4b2e5e" stroke-width="0.9"/>
<circle cx="357.50" cy="201.61" r="1.2" fill="#3c7c48" stroke="#173a1e" stroke-width="0.7"/>
<circle cx="364.46" cy="205.21" r="1.2" fill="#3c7c48" stroke="#173a1e" stroke-width="0.7"/>
<circle cx="378.38" cy="203.41" r="1.2" fill="#3c7c48" stroke="#173a1e" stroke-width="0.7"/>
<circle cx="392.30" cy="202.30" r="1.2" fill="#3c7c48" stroke="#173a1e" stroke-width="0.7"/>
<circle cx="413.18" cy="201.52" r="1.2" fill="#3c7c48" stroke="#173a1e" stroke-width="0.7"/>
<circle cx="427.10" cy="197.15" r="1.2" fill="#3c7c48" stroke="#173a1e" stroke-width="0.7"/>
<circle cx="357.50" cy="158.74" r="1.2" fill="#9a6c48" stroke="#3e2a18" stroke-width="0.7"/>
<circle cx="364.46" cy="197.58" r="1.2" fill="#9a6c48" stroke="#3e2a18" stroke-width="0.7"/>
<circle cx="378.38" cy="202.30" r="1.2" fill="#9a6c48" stroke="#3e2a18" stroke-width="0.7"/>
<circle cx="392.30" cy="195.86" r="1.2" fill="#9a6c48" stroke="#3e2a18" stroke-width="0.7"/>
<circle cx="413.18" cy="198.01" r="1.2" fill="#9a6c48" stroke="#3e2a18" stroke-width="0.7"/>
<circle cx="441.02" cy="208.98" r="1.2" fill="#9a6c48" stroke="#3e2a18" stroke-width="0.7"/>
<circle cx="357.50" cy="194.06" r="1.2" fill="#8a7cb4" stroke="#3a3060" stroke-width="0.7"/>
<circle cx="364.46" cy="205.21" r="1.2" fill="#8a7cb4" stroke="#3a3060" stroke-width="0.7"/>
<circle cx="378.38" cy="190.55" r="1.2" fill="#8a7cb4" stroke="#3a3060" stroke-width="0.7"/>
<circle cx="392.30" cy="191.32" r="1.2" fill="#8a7cb4" stroke="#3a3060" stroke-width="0.7"/>
<circle cx="413.18" cy="189.35" r="1.2" fill="#8a7cb4" stroke="#3a3060" stroke-width="0.7"/>
<circle cx="427.10" cy="192.18" r="1.2" fill="#8a7cb4" stroke="#3a3060" stroke-width="0.7"/>
<circle cx="357.50" cy="203.33" r="1.2" fill="#d2b832" stroke="#3a3210" stroke-width="0.7"/>
<circle cx="364.46" cy="201.10" r="1.2" fill="#d2b832" stroke="#3a3210" stroke-width="0.7"/>
<circle cx="378.38" cy="203.41" r="1.2" fill="#d2b832" stroke="#3a3210" stroke-width="0.7"/>
<circle cx="392.30" cy="206.41" r="1.2" fill="#d2b832" stroke="#3a3210" stroke-width="0.7"/>
<circle cx="413.18" cy="192.18" r="1.2" fill="#d2b832" stroke="#3a3210" stroke-width="0.7"/>
<circle cx="441.02" cy="197.41" r="1.2" fill="#d2b832" stroke="#3a3210" stroke-width="0.7"/>
<circle cx="357.50" cy="148.62" r="1.2" fill="#b43a72" stroke="#5a1535" stroke-width="0.7"/>
<circle cx="364.46" cy="197.58" r="1.2" fill="#b43a72" stroke="#5a1535" stroke-width="0.7"/>
<circle cx="378.38" cy="202.30" r="1.2" fill="#b43a72" stroke="#5a1535" stroke-width="0.7"/>
<circle cx="357.50" cy="205.04" r="1.2" fill="#1e5248" stroke="#0d2a24" stroke-width="0.7"/>
<circle cx="364.46" cy="205.21" r="1.2" fill="#1e5248" stroke="#0d2a24" stroke-width="0.7"/>
<circle cx="378.38" cy="203.41" r="1.2" fill="#1e5248" stroke="#0d2a24" stroke-width="0.7"/>
<circle cx="392.30" cy="202.30" r="1.2" fill="#1e5248" stroke="#0d2a24" stroke-width="0.7"/>
<circle cx="357.50" cy="183.77" r="1.2" fill="#4f98a8" stroke="#1d4550" stroke-width="0.7"/>
<circle cx="364.46" cy="210.53" r="1.2" fill="#4f98a8" stroke="#1d4550" stroke-width="0.7"/>
<circle cx="378.38" cy="187.03" r="1.2" fill="#4f98a8" stroke="#1d4550" stroke-width="0.7"/>
<circle cx="392.30" cy="185.06" r="1.2" fill="#4f98a8" stroke="#1d4550" stroke-width="0.7"/>
<circle cx="413.18" cy="187.46" r="1.2" fill="#4f98a8" stroke="#1d4550" stroke-width="0.7"/>
<circle cx="357.50" cy="181.20" r="1.2" fill="#3b4550" stroke="#1c2228" stroke-width="0.7"/>
<circle cx="364.46" cy="178.20" r="1.2" fill="#3b4550" stroke="#1c2228" stroke-width="0.7"/>
<circle cx="378.38" cy="194.32" r="1.2" fill="#3b4550" stroke="#1c2228" stroke-width="0.7"/>
<circle cx="392.30" cy="206.41" r="1.2" fill="#3b4550" stroke="#1c2228" stroke-width="0.7"/>
<circle cx="413.18" cy="207.18" r="1.2" fill="#3b4550" stroke="#1c2228" stroke-width="0.7"/>
<circle cx="441.02" cy="192.18" r="1.2" fill="#3b4550" stroke="#1c2228" stroke-width="0.7"/>
<circle cx="461.90" cy="194.75" r="1.2" fill="#3b4550" stroke="#1c2228" stroke-width="0.7"/>
<circle cx="357.50" cy="201.61" r="1.2" fill="#b99a94" stroke="#6e5450" stroke-width="0.7"/>
<circle cx="364.46" cy="201.10" r="1.2" fill="#b99a94" stroke="#6e5450" stroke-width="0.7"/>
<circle cx="378.38" cy="190.55" r="1.2" fill="#b99a94" stroke="#6e5450" stroke-width="0.7"/>
<circle cx="392.30" cy="178.20" r="1.2" fill="#b99a94" stroke="#6e5450" stroke-width="0.7"/>
<circle cx="413.18" cy="187.46" r="1.2" fill="#b99a94" stroke="#6e5450" stroke-width="0.7"/>
<circle cx="427.10" cy="192.18" r="1.2" fill="#b99a94" stroke="#6e5450" stroke-width="0.7"/>
<circle cx="441.02" cy="193.98" r="1.2" fill="#b99a94" stroke="#6e5450" stroke-width="0.7"/>
<circle cx="461.90" cy="177.51" r="1.2" fill="#b99a94" stroke="#6e5450" stroke-width="0.7"/>
<circle cx="357.50" cy="208.73" r="1.2" fill="#2b1d36" stroke="#151018" stroke-width="0.7"/>
<circle cx="364.46" cy="205.21" r="1.2" fill="#2b1d36" stroke="#151018" stroke-width="0.7"/>
<circle cx="378.38" cy="206.93" r="1.2" fill="#2b1d36" stroke="#151018" stroke-width="0.7"/>
<circle cx="392.30" cy="207.53" r="1.2" fill="#2b1d36" stroke="#151018" stroke-width="0.7"/>
<circle cx="413.18" cy="207.18" r="1.2" fill="#2b1d36" stroke="#151018" stroke-width="0.7"/>
<circle cx="441.02" cy="210.27" r="1.2" fill="#2b1d36" stroke="#151018" stroke-width="0.7"/>
<line x1="39.30" y1="261.00" x2="39.30" y2="280.60" stroke="#222" stroke-width="1.2"/>
<line x1="39.30" y1="285.00" x2="39.30" y2="332.80" stroke="#222" stroke-width="1.2"/>
<line x1="38.70" y1="332.70" x2="151.60" y2="332.70" stroke="#222" stroke-width="1.2"/>
<line x1="36.30" y1="332.60" x2="39.30" y2="332.60" stroke="#222" stroke-width="1.0"/>
<text x="33.00" y="335.00" font-size="6.6" text-anchor="end" font-weight="normal" fill="#333" textLength="3.36" lengthAdjust="spacingAndGlyphs">0</text>
<line x1="36.30" y1="317.20" x2="39.30" y2="317.20" stroke="#222" stroke-width="1.0"/>
<text x="33.00" y="319.60" font-size="6.6" text-anchor="end" font-weight="normal" fill="#333" textLength="6.73" lengthAdjust="spacingAndGlyphs">50</text>
<line x1="36.30" y1="301.00" x2="39.30" y2="301.00" stroke="#222" stroke-width="1.0"/>
<text x="33.00" y="303.40" font-size="6.6" text-anchor="end" font-weight="normal" fill="#333" textLength="10.09" lengthAdjust="spacingAndGlyphs">100</text>
<line x1="36.30" y1="285.50" x2="39.30" y2="285.50" stroke="#222" stroke-width="1.0"/>
<text x="33.00" y="287.90" font-size="6.6" text-anchor="end" font-weight="normal" fill="#333" textLength="10.09" lengthAdjust="spacingAndGlyphs">150</text>
<line x1="36.30" y1="280.00" x2="39.30" y2="280.00" stroke="#222" stroke-width="1.0"/>
<text x="33.00" y="282.40" font-size="6.6" text-anchor="end" font-weight="normal" fill="#333" textLength="10.09" lengthAdjust="spacingAndGlyphs">500</text>
<line x1="36.30" y1="275.00" x2="39.30" y2="275.00" stroke="#222" stroke-width="1.0"/>
<text x="33.00" y="277.40" font-size="6.6" text-anchor="end" font-weight="normal" fill="#333" textLength="13.46" lengthAdjust="spacingAndGlyphs">1000</text>
<line x1="36.30" y1="269.60" x2="39.30" y2="269.60" stroke="#222" stroke-width="1.0"/>
<text x="33.00" y="272.00" font-size="6.6" text-anchor="end" font-weight="normal" fill="#333" textLength="13.46" lengthAdjust="spacingAndGlyphs">1500</text>
<line x1="36.30" y1="263.80" x2="39.30" y2="263.80" stroke="#222" stroke-width="1.0"/>
<text x="33.00" y="266.20" font-size="6.6" text-anchor="end" font-weight="normal" fill="#333" textLength="13.46" lengthAdjust="spacingAndGlyphs">2000</text>
<line x1="42.46" y1="332.70" x2="42.46" y2="335.70" stroke="#222" stroke-width="1.0"/>
<text x="43.66" y="341.20" font-size="6.5" text-anchor="end" font-weight="normal" fill="#262626" transform="rotate(-60 43.66 341.20)" stroke="#262626" stroke-width="0.2">baseline</text>
<line x1="49.41" y1="332.70" x2="49.41" y2="335.70" stroke="#222" stroke-width="1.0"/>
<text x="51.41" y="342.30" font-size="6.6" text-anchor="end" font-weight="normal" fill="#262626" transform="rotate(-60 51.41 342.30)" stroke="#262626" stroke-width="0.2">1m</text>
<line x1="63.31" y1="332.70" x2="63.31" y2="335.70" stroke="#222" stroke-width="1.0"/>
<text x="65.31" y="342.30" font-size="6.6" text-anchor="end" font-weight="normal" fill="#262626" transform="rotate(-60 65.31 342.30)" stroke="#262626" stroke-width="0.2">3m</text>
<line x1="77.21" y1="332.70" x2="77.21" y2="335.70" stroke="#222" stroke-width="1.0"/>
<text x="79.21" y="342.30" font-size="6.6" text-anchor="end" font-weight="normal" fill="#262626" transform="rotate(-60 79.21 342.30)" stroke="#262626" stroke-width="0.2">5m</text>
<line x1="98.06" y1="332.70" x2="98.06" y2="335.70" stroke="#222" stroke-width="1.0"/>
<text x="100.06" y="342.30" font-size="6.6" text-anchor="end" font-weight="normal" fill="#262626" transform="rotate(-60 100.06 342.30)" stroke="#262626" stroke-width="0.2">8m</text>
<line x1="111.96" y1="332.70" x2="111.96" y2="335.70" stroke="#222" stroke-width="1.0"/>
<text x="113.96" y="342.30" font-size="6.6" text-anchor="end" font-weight="normal" fill="#262626" transform="rotate(-60 113.96 342.30)" stroke="#262626" stroke-width="0.2">10m</text>
<line x1="125.86" y1="332.70" x2="125.86" y2="335.70" stroke="#222" stroke-width="1.0"/>
<text x="127.86" y="342.30" font-size="6.6" text-anchor="end" font-weight="normal" fill="#262626" transform="rotate(-60 127.86 342.30)" stroke="#262626" stroke-width="0.2">12m</text>
<line x1="146.71" y1="332.70" x2="146.71" y2="335.70" stroke="#222" stroke-width="1.0"/>
<text x="148.71" y="342.30" font-size="6.6" text-anchor="end" font-weight="normal" fill="#262626" transform="rotate(-60 148.71 342.30)" stroke="#262626" stroke-width="0.2">15m</text>
<text class="yl" x="13.90" y="296.85" font-size="7.2" text-anchor="middle" fill="#2e2e2e" stroke="#2e2e2e" stroke-width="0.16" textLength="25.40" lengthAdjust="spacingAndGlyphs" transform="rotate(-90 13.90 296.85)">ALT (U/L)</text>
<g clip-path="url(#clipALT)">
<path d="M42.46,323.97 L49.41,324.29 L63.31,326.18 L77.21,326.81 L98.06,328.07 L111.96,328.07" fill="none" stroke="#3eaa4e" stroke-width="0.9"/>
<path d="M42.46,296.54 L49.41,318.61 L63.31,323.02 L77.21,326.81 L98.06,325.55 L125.86,325.86" fill="none" stroke="#eb9248" stroke-width="0.9"/>
<path d="M42.46,318.61 L49.41,318.61 L63.31,323.02 L77.21,326.18 L98.06,328.07 L111.96,328.07" fill="none" stroke="#9a92dc" stroke-width="0.9"/>
<path d="M42.46,323.97 L49.41,324.29 L63.31,326.18 L77.21,326.81 L98.06,325.55 L111.96,325.86 L125.86,325.86" fill="none" stroke="#e8cc2a" stroke-width="0.9"/>
<path d="M42.46,300.01 L49.41,321.13 L63.31,321.13 L77.21,323.02" fill="none" stroke="#e8418a" stroke-width="0.9"/>
<path d="M42.46,266.80 L49.41,302.21 L63.31,329.02 L77.21,329.65" fill="none" stroke="#2a8068" stroke-width="0.9"/>
<path d="M42.46,328.70 L49.41,304.74 L63.31,326.18 L77.21,326.81" fill="none" stroke="#5cc0e8" stroke-width="0.9"/>
<path d="M42.46,316.40 L49.41,321.13 L63.31,321.13 L77.21,323.02 L98.06,328.07 L125.86,330.28 L146.71,330.59" fill="none" stroke="#4d5866" stroke-width="0.9"/>
<path d="M42.46,318.61 L49.41,324.29 L63.31,326.18 L77.21,326.81 L98.06,325.55 L111.96,325.86 L125.86,325.86 L146.71,328.07" fill="none" stroke="#e0958a" stroke-width="0.9"/>
<path d="M42.46,279.78 L49.41,329.33 L63.31,329.02 L77.21,329.65 L98.06,330.28 L125.86,331.54" fill="none" stroke="#4b2e5e" stroke-width="0.9"/>
<circle cx="42.46" cy="323.97" r="1.2" fill="#3c7c48" stroke="#173a1e" stroke-width="0.7"/>
<circle cx="49.41" cy="324.29" r="1.2" fill="#3c7c48" stroke="#173a1e" stroke-width="0.7"/>
<circle cx="63.31" cy="326.18" r="1.2" fill="#3c7c48" stroke="#173a1e" stroke-width="0.7"/>
<circle cx="77.21" cy="326.81" r="1.2" fill="#3c7c48" stroke="#173a1e" stroke-width="0.7"/>
<circle cx="98.06" cy="328.07" r="1.2" fill="#3c7c48" stroke="#173a1e" stroke-width="0.7"/>
<circle cx="111.96" cy="328.07" r="1.2" fill="#3c7c48" stroke="#173a1e" stroke-width="0.7"/>
<circle cx="42.46" cy="296.54" r="1.2" fill="#9a6c48" stroke="#3e2a18" stroke-width="0.7"/>
<circle cx="49.41" cy="318.61" r="1.2" fill="#9a6c48" stroke="#3e2a18" stroke-width="0.7"/>
<circle cx="63.31" cy="323.02" r="1.2" fill="#9a6c48" stroke="#3e2a18" stroke-width="0.7"/>
<circle cx="77.21" cy="326.81" r="1.2" fill="#9a6c48" stroke="#3e2a18" stroke-width="0.7"/>
<circle cx="98.06" cy="325.55" r="1.2" fill="#9a6c48" stroke="#3e2a18" stroke-width="0.7"/>
<circle cx="125.86" cy="325.86" r="1.2" fill="#9a6c48" stroke="#3e2a18" stroke-width="0.7"/>
<circle cx="42.46" cy="318.61" r="1.2" fill="#8a7cb4" stroke="#3a3060" stroke-width="0.7"/>
<circle cx="49.41" cy="318.61" r="1.2" fill="#8a7cb4" stroke="#3a3060" stroke-width="0.7"/>
<circle cx="63.31" cy="323.02" r="1.2" fill="#8a7cb4" stroke="#3a3060" stroke-width="0.7"/>
<circle cx="77.21" cy="326.18" r="1.2" fill="#8a7cb4" stroke="#3a3060" stroke-width="0.7"/>
<circle cx="98.06" cy="328.07" r="1.2" fill="#8a7cb4" stroke="#3a3060" stroke-width="0.7"/>
<circle cx="111.96" cy="328.07" r="1.2" fill="#8a7cb4" stroke="#3a3060" stroke-width="0.7"/>
<circle cx="42.46" cy="323.97" r="1.2" fill="#d2b832" stroke="#3a3210" stroke-width="0.7"/>
<circle cx="49.41" cy="324.29" r="1.2" fill="#d2b832" stroke="#3a3210" stroke-width="0.7"/>
<circle cx="63.31" cy="326.18" r="1.2" fill="#d2b832" stroke="#3a3210" stroke-width="0.7"/>
<circle cx="77.21" cy="326.81" r="1.2" fill="#d2b832" stroke="#3a3210" stroke-width="0.7"/>
<circle cx="98.06" cy="325.55" r="1.2" fill="#d2b832" stroke="#3a3210" stroke-width="0.7"/>
<circle cx="111.96" cy="325.86" r="1.2" fill="#d2b832" stroke="#3a3210" stroke-width="0.7"/>
<circle cx="125.86" cy="325.86" r="1.2" fill="#d2b832" stroke="#3a3210" stroke-width="0.7"/>
<circle cx="42.46" cy="300.01" r="1.2" fill="#b43a72" stroke="#5a1535" stroke-width="0.7"/>
<circle cx="49.41" cy="321.13" r="1.2" fill="#b43a72" stroke="#5a1535" stroke-width="0.7"/>
<circle cx="63.31" cy="321.13" r="1.2" fill="#b43a72" stroke="#5a1535" stroke-width="0.7"/>
<circle cx="77.21" cy="323.02" r="1.2" fill="#b43a72" stroke="#5a1535" stroke-width="0.7"/>
<circle cx="42.46" cy="266.80" r="1.2" fill="#1e5248" stroke="#0d2a24" stroke-width="0.7"/>
<circle cx="49.41" cy="302.21" r="1.2" fill="#1e5248" stroke="#0d2a24" stroke-width="0.7"/>
<circle cx="63.31" cy="329.02" r="1.2" fill="#1e5248" stroke="#0d2a24" stroke-width="0.7"/>
<circle cx="77.21" cy="329.65" r="1.2" fill="#1e5248" stroke="#0d2a24" stroke-width="0.7"/>
<circle cx="42.46" cy="328.70" r="1.2" fill="#4f98a8" stroke="#1d4550" stroke-width="0.7"/>
<circle cx="49.41" cy="304.74" r="1.2" fill="#4f98a8" stroke="#1d4550" stroke-width="0.7"/>
<circle cx="63.31" cy="326.18" r="1.2" fill="#4f98a8" stroke="#1d4550" stroke-width="0.7"/>
<circle cx="77.21" cy="326.81" r="1.2" fill="#4f98a8" stroke="#1d4550" stroke-width="0.7"/>
<circle cx="42.46" cy="316.40" r="1.2" fill="#3b4550" stroke="#1c2228" stroke-width="0.7"/>
<circle cx="49.41" cy="321.13" r="1.2" fill="#3b4550" stroke="#1c2228" stroke-width="0.7"/>
<circle cx="63.31" cy="321.13" r="1.2" fill="#3b4550" stroke="#1c2228" stroke-width="0.7"/>
<circle cx="77.21" cy="323.02" r="1.2" fill="#3b4550" stroke="#1c2228" stroke-width="0.7"/>
<circle cx="98.06" cy="328.07" r="1.2" fill="#3b4550" stroke="#1c2228" stroke-width="0.7"/>
<circle cx="125.86" cy="330.28" r="1.2" fill="#3b4550" stroke="#1c2228" stroke-width="0.7"/>
<circle cx="146.71" cy="330.59" r="1.2" fill="#3b4550" stroke="#1c2228" stroke-width="0.7"/>
<circle cx="42.46" cy="318.61" r="1.2" fill="#b99a94" stroke="#6e5450" stroke-width="0.7"/>
<circle cx="49.41" cy="324.29" r="1.2" fill="#b99a94" stroke="#6e5450" stroke-width="0.7"/>
<circle cx="63.31" cy="326.18" r="1.2" fill="#b99a94" stroke="#6e5450" stroke-width="0.7"/>
<circle cx="77.21" cy="326.81" r="1.2" fill="#b99a94" stroke="#6e5450" stroke-width="0.7"/>
<circle cx="98.06" cy="325.55" r="1.2" fill="#b99a94" stroke="#6e5450" stroke-width="0.7"/>
<circle cx="111.96" cy="325.86" r="1.2" fill="#b99a94" stroke="#6e5450" stroke-width="0.7"/>
<circle cx="125.86" cy="325.86" r="1.2" fill="#b99a94" stroke="#6e5450" stroke-width="0.7"/>
<circle cx="146.71" cy="328.07" r="1.2" fill="#b99a94" stroke="#6e5450" stroke-width="0.7"/>
<circle cx="42.46" cy="279.78" r="1.2" fill="#2b1d36" stroke="#151018" stroke-width="0.7"/>
<circle cx="49.41" cy="329.33" r="1.2" fill="#2b1d36" stroke="#151018" stroke-width="0.7"/>
<circle cx="63.31" cy="329.02" r="1.2" fill="#2b1d36" stroke="#151018" stroke-width="0.7"/>
<circle cx="77.21" cy="329.65" r="1.2" fill="#2b1d36" stroke="#151018" stroke-width="0.7"/>
<circle cx="98.06" cy="330.28" r="1.2" fill="#2b1d36" stroke="#151018" stroke-width="0.7"/>
<circle cx="125.86" cy="331.54" r="1.2" fill="#2b1d36" stroke="#151018" stroke-width="0.7"/>
</g>
<line x1="192.80" y1="258.80" x2="192.80" y2="278.60" stroke="#222" stroke-width="1.2"/>
<line x1="192.80" y1="283.00" x2="192.80" y2="332.80" stroke="#222" stroke-width="1.2"/>
<line x1="192.20" y1="332.70" x2="308.60" y2="332.70" stroke="#222" stroke-width="1.2"/>
<line x1="189.80" y1="332.60" x2="192.80" y2="332.60" stroke="#222" stroke-width="1.0"/>
<text x="187.00" y="335.00" font-size="6.6" text-anchor="end" font-weight="normal" fill="#333" textLength="3.36" lengthAdjust="spacingAndGlyphs">0</text>
<line x1="189.80" y1="316.30" x2="192.80" y2="316.30" stroke="#222" stroke-width="1.0"/>
<text x="187.00" y="318.70" font-size="6.6" text-anchor="end" font-weight="normal" fill="#333" textLength="6.73" lengthAdjust="spacingAndGlyphs">50</text>
<line x1="189.80" y1="300.00" x2="192.80" y2="300.00" stroke="#222" stroke-width="1.0"/>
<text x="187.00" y="302.40" font-size="6.6" text-anchor="end" font-weight="normal" fill="#333" textLength="10.09" lengthAdjust="spacingAndGlyphs">100</text>
<line x1="189.80" y1="283.70" x2="192.80" y2="283.70" stroke="#222" stroke-width="1.0"/>
<text x="187.00" y="286.10" font-size="6.6" text-anchor="end" font-weight="normal" fill="#333" textLength="10.09" lengthAdjust="spacingAndGlyphs">150</text>
<line x1="189.80" y1="278.00" x2="192.80" y2="278.00" stroke="#222" stroke-width="1.0"/>
<text x="187.00" y="280.40" font-size="6.6" text-anchor="end" font-weight="normal" fill="#333" textLength="13.46" lengthAdjust="spacingAndGlyphs">1000</text>
<line x1="189.80" y1="269.60" x2="192.80" y2="269.60" stroke="#222" stroke-width="1.0"/>
<text x="187.00" y="272.00" font-size="6.6" text-anchor="end" font-weight="normal" fill="#333" textLength="13.46" lengthAdjust="spacingAndGlyphs">1250</text>
<line x1="189.80" y1="261.20" x2="192.80" y2="261.20" stroke="#222" stroke-width="1.0"/>
<text x="187.00" y="263.60" font-size="6.6" text-anchor="end" font-weight="normal" fill="#333" textLength="13.46" lengthAdjust="spacingAndGlyphs">1500</text>
<line x1="196.40" y1="332.70" x2="196.40" y2="335.70" stroke="#222" stroke-width="1.0"/>
<text x="197.60" y="341.20" font-size="6.5" text-anchor="end" font-weight="normal" fill="#262626" transform="rotate(-60 197.60 341.20)" stroke="#262626" stroke-width="0.2">baseline</text>
<line x1="203.60" y1="332.70" x2="203.60" y2="335.70" stroke="#222" stroke-width="1.0"/>
<text x="205.60" y="342.30" font-size="6.6" text-anchor="end" font-weight="normal" fill="#262626" transform="rotate(-60 205.60 342.30)" stroke="#262626" stroke-width="0.2">1m</text>
<line x1="218.00" y1="332.70" x2="218.00" y2="335.70" stroke="#222" stroke-width="1.0"/>
<text x="220.00" y="342.30" font-size="6.6" text-anchor="end" font-weight="normal" fill="#262626" transform="rotate(-60 220.00 342.30)" stroke="#262626" stroke-width="0.2">3m</text>
<line x1="232.40" y1="332.70" x2="232.40" y2="335.70" stroke="#222" stroke-width="1.0"/>
<text x="234.40" y="342.30" font-size="6.6" text-anchor="end" font-weight="normal" fill="#262626" transform="rotate(-60 234.40 342.30)" stroke="#262626" stroke-width="0.2">5m</text>
<line x1="254.00" y1="332.70" x2="254.00" y2="335.70" stroke="#222" stroke-width="1.0"/>
<text x="256.00" y="342.30" font-size="6.6" text-anchor="end" font-weight="normal" fill="#262626" transform="rotate(-60 256.00 342.30)" stroke="#262626" stroke-width="0.2">8m</text>
<line x1="268.40" y1="332.70" x2="268.40" y2="335.70" stroke="#222" stroke-width="1.0"/>
<text x="270.40" y="342.30" font-size="6.6" text-anchor="end" font-weight="normal" fill="#262626" transform="rotate(-60 270.40 342.30)" stroke="#262626" stroke-width="0.2">10m</text>
<line x1="282.80" y1="332.70" x2="282.80" y2="335.70" stroke="#222" stroke-width="1.0"/>
<text x="284.80" y="342.30" font-size="6.6" text-anchor="end" font-weight="normal" fill="#262626" transform="rotate(-60 284.80 342.30)" stroke="#262626" stroke-width="0.2">12m</text>
<line x1="304.40" y1="332.70" x2="304.40" y2="335.70" stroke="#222" stroke-width="1.0"/>
<text x="306.40" y="342.30" font-size="6.6" text-anchor="end" font-weight="normal" fill="#262626" transform="rotate(-60 306.40 342.30)" stroke="#262626" stroke-width="0.2">15m</text>
<text class="yl" x="168.10" y="296.85" font-size="7.2" text-anchor="middle" fill="#2e2e2e" stroke="#2e2e2e" stroke-width="0.16" textLength="26.20" lengthAdjust="spacingAndGlyphs" transform="rotate(-90 168.10 296.85)">AST (U/L)</text>
<g clip-path="url(#clipAST)">
<path d="M196.40,322.45 L203.60,324.42 L218.00,325.73 L232.40,326.38 L254.00,324.42 L268.40,324.42" fill="none" stroke="#3eaa4e" stroke-width="0.9"/>
<path d="M196.40,311.98 L203.60,318.52 L218.00,321.80 L232.40,322.45 L254.00,324.42 L282.80,324.42" fill="none" stroke="#eb9248" stroke-width="0.9"/>
<path d="M196.40,314.92 L203.60,324.42 L218.00,323.76 L232.40,322.45 L254.00,326.71 L268.40,326.71" fill="none" stroke="#9a92dc" stroke-width="0.9"/>
<path d="M196.40,322.45 L203.60,321.80 L218.00,323.76 L232.40,324.42 L254.00,314.27 L282.80,324.42" fill="none" stroke="#e8cc2a" stroke-width="0.9"/>
<path d="M196.40,314.92 L203.60,326.71 L218.00,327.36 L232.40,326.38" fill="none" stroke="#e8418a" stroke-width="0.9"/>
<path d="M196.40,269.84 L203.60,318.52 L218.00,325.73 L232.40,326.38" fill="none" stroke="#2a8068" stroke-width="0.9"/>
<path d="M196.40,327.20 L203.60,321.80 L218.00,325.73 L232.40,326.38" fill="none" stroke="#5cc0e8" stroke-width="0.9"/>
<path d="M196.40,311.98 L203.60,324.42 L218.00,325.73 L232.40,324.42 L254.00,326.71 L282.80,326.71" fill="none" stroke="#4d5866" stroke-width="0.9"/>
<path d="M196.40,300.19 L203.60,324.42 L218.00,323.76 L232.40,324.42 L254.00,321.14 L282.80,321.14 L304.40,319.51" fill="none" stroke="#e0958a" stroke-width="0.9"/>
<path d="M196.40,290.37 L203.60,328.34 L218.00,327.36 L232.40,328.02 L254.00,326.71 L282.80,326.71 L304.40,326.71" fill="none" stroke="#4b2e5e" stroke-width="0.9"/>
<circle cx="196.40" cy="322.45" r="1.2" fill="#3c7c48" stroke="#173a1e" stroke-width="0.7"/>
<circle cx="203.60" cy="324.42" r="1.2" fill="#3c7c48" stroke="#173a1e" stroke-width="0.7"/>
<circle cx="218.00" cy="325.73" r="1.2" fill="#3c7c48" stroke="#173a1e" stroke-width="0.7"/>
<circle cx="232.40" cy="326.38" r="1.2" fill="#3c7c48" stroke="#173a1e" stroke-width="0.7"/>
<circle cx="254.00" cy="324.42" r="1.2" fill="#3c7c48" stroke="#173a1e" stroke-width="0.7"/>
<circle cx="268.40" cy="324.42" r="1.2" fill="#3c7c48" stroke="#173a1e" stroke-width="0.7"/>
<circle cx="196.40" cy="311.98" r="1.2" fill="#9a6c48" stroke="#3e2a18" stroke-width="0.7"/>
<circle cx="203.60" cy="318.52" r="1.2" fill="#9a6c48" stroke="#3e2a18" stroke-width="0.7"/>
<circle cx="218.00" cy="321.80" r="1.2" fill="#9a6c48" stroke="#3e2a18" stroke-width="0.7"/>
<circle cx="232.40" cy="322.45" r="1.2" fill="#9a6c48" stroke="#3e2a18" stroke-width="0.7"/>
<circle cx="254.00" cy="324.42" r="1.2" fill="#9a6c48" stroke="#3e2a18" stroke-width="0.7"/>
<circle cx="282.80" cy="324.42" r="1.2" fill="#9a6c48" stroke="#3e2a18" stroke-width="0.7"/>
<circle cx="196.40" cy="314.92" r="1.2" fill="#8a7cb4" stroke="#3a3060" stroke-width="0.7"/>
<circle cx="203.60" cy="324.42" r="1.2" fill="#8a7cb4" stroke="#3a3060" stroke-width="0.7"/>
<circle cx="218.00" cy="323.76" r="1.2" fill="#8a7cb4" stroke="#3a3060" stroke-width="0.7"/>
<circle cx="232.40" cy="322.45" r="1.2" fill="#8a7cb4" stroke="#3a3060" stroke-width="0.7"/>
<circle cx="254.00" cy="326.71" r="1.2" fill="#8a7cb4" stroke="#3a3060" stroke-width="0.7"/>
<circle cx="268.40" cy="326.71" r="1.2" fill="#8a7cb4" stroke="#3a3060" stroke-width="0.7"/>
<circle cx="196.40" cy="322.45" r="1.2" fill="#d2b832" stroke="#3a3210" stroke-width="0.7"/>
<circle cx="203.60" cy="321.80" r="1.2" fill="#d2b832" stroke="#3a3210" stroke-width="0.7"/>
<circle cx="218.00" cy="323.76" r="1.2" fill="#d2b832" stroke="#3a3210" stroke-width="0.7"/>
<circle cx="232.40" cy="324.42" r="1.2" fill="#d2b832" stroke="#3a3210" stroke-width="0.7"/>
<circle cx="254.00" cy="314.27" r="1.2" fill="#d2b832" stroke="#3a3210" stroke-width="0.7"/>
<circle cx="282.80" cy="324.42" r="1.2" fill="#d2b832" stroke="#3a3210" stroke-width="0.7"/>
<circle cx="196.40" cy="314.92" r="1.2" fill="#b43a72" stroke="#5a1535" stroke-width="0.7"/>
<circle cx="203.60" cy="326.71" r="1.2" fill="#b43a72" stroke="#5a1535" stroke-width="0.7"/>
<circle cx="218.00" cy="327.36" r="1.2" fill="#b43a72" stroke="#5a1535" stroke-width="0.7"/>
<circle cx="232.40" cy="326.38" r="1.2" fill="#b43a72" stroke="#5a1535" stroke-width="0.7"/>
<circle cx="196.40" cy="269.84" r="1.2" fill="#1e5248" stroke="#0d2a24" stroke-width="0.7"/>
<circle cx="203.60" cy="318.52" r="1.2" fill="#1e5248" stroke="#0d2a24" stroke-width="0.7"/>
<circle cx="218.00" cy="325.73" r="1.2" fill="#1e5248" stroke="#0d2a24" stroke-width="0.7"/>
<circle cx="232.40" cy="326.38" r="1.2" fill="#1e5248" stroke="#0d2a24" stroke-width="0.7"/>
<circle cx="196.40" cy="327.20" r="1.2" fill="#4f98a8" stroke="#1d4550" stroke-width="0.7"/>
<circle cx="203.60" cy="321.80" r="1.2" fill="#4f98a8" stroke="#1d4550" stroke-width="0.7"/>
<circle cx="218.00" cy="325.73" r="1.2" fill="#4f98a8" stroke="#1d4550" stroke-width="0.7"/>
<circle cx="232.40" cy="326.38" r="1.2" fill="#4f98a8" stroke="#1d4550" stroke-width="0.7"/>
<circle cx="196.40" cy="311.98" r="1.2" fill="#3b4550" stroke="#1c2228" stroke-width="0.7"/>
<circle cx="203.60" cy="324.42" r="1.2" fill="#3b4550" stroke="#1c2228" stroke-width="0.7"/>
<circle cx="218.00" cy="325.73" r="1.2" fill="#3b4550" stroke="#1c2228" stroke-width="0.7"/>
<circle cx="232.40" cy="324.42" r="1.2" fill="#3b4550" stroke="#1c2228" stroke-width="0.7"/>
<circle cx="254.00" cy="326.71" r="1.2" fill="#3b4550" stroke="#1c2228" stroke-width="0.7"/>
<circle cx="282.80" cy="326.71" r="1.2" fill="#3b4550" stroke="#1c2228" stroke-width="0.7"/>
<circle cx="196.40" cy="300.19" r="1.2" fill="#b99a94" stroke="#6e5450" stroke-width="0.7"/>
<circle cx="203.60" cy="324.42" r="1.2" fill="#b99a94" stroke="#6e5450" stroke-width="0.7"/>
<circle cx="218.00" cy="323.76" r="1.2" fill="#b99a94" stroke="#6e5450" stroke-width="0.7"/>
<circle cx="232.40" cy="324.42" r="1.2" fill="#b99a94" stroke="#6e5450" stroke-width="0.7"/>
<circle cx="254.00" cy="321.14" r="1.2" fill="#b99a94" stroke="#6e5450" stroke-width="0.7"/>
<circle cx="282.80" cy="321.14" r="1.2" fill="#b99a94" stroke="#6e5450" stroke-width="0.7"/>
<circle cx="304.40" cy="319.51" r="1.2" fill="#b99a94" stroke="#6e5450" stroke-width="0.7"/>
<circle cx="196.40" cy="290.37" r="1.2" fill="#2b1d36" stroke="#151018" stroke-width="0.7"/>
<circle cx="203.60" cy="328.34" r="1.2" fill="#2b1d36" stroke="#151018" stroke-width="0.7"/>
<circle cx="218.00" cy="327.36" r="1.2" fill="#2b1d36" stroke="#151018" stroke-width="0.7"/>
<circle cx="232.40" cy="328.02" r="1.2" fill="#2b1d36" stroke="#151018" stroke-width="0.7"/>
<circle cx="254.00" cy="326.71" r="1.2" fill="#2b1d36" stroke="#151018" stroke-width="0.7"/>
<circle cx="282.80" cy="326.71" r="1.2" fill="#2b1d36" stroke="#151018" stroke-width="0.7"/>
<circle cx="304.40" cy="326.71" r="1.2" fill="#2b1d36" stroke="#151018" stroke-width="0.7"/>
</g>
<line x1="354.10" y1="258.50" x2="354.10" y2="296.00" stroke="#222" stroke-width="1.2"/>
<line x1="354.10" y1="300.30" x2="354.10" y2="332.80" stroke="#222" stroke-width="1.2"/>
<line x1="353.50" y1="332.70" x2="466.60" y2="332.70" stroke="#222" stroke-width="1.2"/>
<line x1="351.10" y1="332.60" x2="354.10" y2="332.60" stroke="#222" stroke-width="1.0"/>
<text x="347.50" y="335.00" font-size="6.6" text-anchor="end" font-weight="normal" fill="#333" textLength="3.31" lengthAdjust="spacingAndGlyphs">0</text>
<line x1="351.10" y1="326.30" x2="354.10" y2="326.30" stroke="#222" stroke-width="1.0"/>
<text x="347.50" y="328.70" font-size="6.6" text-anchor="end" font-weight="normal" fill="#333" textLength="9.93" lengthAdjust="spacingAndGlyphs">500</text>
<line x1="351.10" y1="320.00" x2="354.10" y2="320.00" stroke="#222" stroke-width="1.0"/>
<text x="347.50" y="322.40" font-size="6.6" text-anchor="end" font-weight="normal" fill="#333" textLength="13.24" lengthAdjust="spacingAndGlyphs">1000</text>
<line x1="351.10" y1="313.60" x2="354.10" y2="313.60" stroke="#222" stroke-width="1.0"/>
<text x="347.50" y="316.00" font-size="6.6" text-anchor="end" font-weight="normal" fill="#333" textLength="13.24" lengthAdjust="spacingAndGlyphs">1500</text>
<line x1="351.10" y1="307.30" x2="354.10" y2="307.30" stroke="#222" stroke-width="1.0"/>
<text x="347.50" y="309.70" font-size="6.6" text-anchor="end" font-weight="normal" fill="#333" textLength="13.24" lengthAdjust="spacingAndGlyphs">2000</text>
<line x1="351.10" y1="300.90" x2="354.10" y2="300.90" stroke="#222" stroke-width="1.0"/>
<text x="347.50" y="303.30" font-size="6.6" text-anchor="end" font-weight="normal" fill="#333" textLength="13.24" lengthAdjust="spacingAndGlyphs">2500</text>
<line x1="351.10" y1="291.40" x2="354.10" y2="291.40" stroke="#222" stroke-width="1.0"/>
<text x="347.50" y="293.80" font-size="6.6" text-anchor="end" font-weight="normal" fill="#333" textLength="13.24" lengthAdjust="spacingAndGlyphs">5000</text>
<line x1="351.10" y1="282.30" x2="354.10" y2="282.30" stroke="#222" stroke-width="1.0"/>
<text x="347.50" y="284.70" font-size="6.6" text-anchor="end" font-weight="normal" fill="#333" textLength="16.55" lengthAdjust="spacingAndGlyphs">10000</text>
<line x1="351.10" y1="273.30" x2="354.10" y2="273.30" stroke="#222" stroke-width="1.0"/>
<text x="347.50" y="275.70" font-size="6.6" text-anchor="end" font-weight="normal" fill="#333" textLength="16.55" lengthAdjust="spacingAndGlyphs">15000</text>
<line x1="351.10" y1="264.20" x2="354.10" y2="264.20" stroke="#222" stroke-width="1.0"/>
<text x="347.50" y="266.60" font-size="6.6" text-anchor="end" font-weight="normal" fill="#333" textLength="16.55" lengthAdjust="spacingAndGlyphs">20000</text>
<line x1="357.50" y1="332.70" x2="357.50" y2="335.70" stroke="#222" stroke-width="1.0"/>
<text x="358.70" y="341.20" font-size="6.5" text-anchor="end" font-weight="normal" fill="#262626" transform="rotate(-60 358.70 341.20)" stroke="#262626" stroke-width="0.2">baseline</text>
<line x1="364.46" y1="332.70" x2="364.46" y2="335.70" stroke="#222" stroke-width="1.0"/>
<text x="366.46" y="342.30" font-size="6.6" text-anchor="end" font-weight="normal" fill="#262626" transform="rotate(-60 366.46 342.30)" stroke="#262626" stroke-width="0.2">1m</text>
<line x1="378.38" y1="332.70" x2="378.38" y2="335.70" stroke="#222" stroke-width="1.0"/>
<text x="380.38" y="342.30" font-size="6.6" text-anchor="end" font-weight="normal" fill="#262626" transform="rotate(-60 380.38 342.30)" stroke="#262626" stroke-width="0.2">3m</text>
<line x1="392.30" y1="332.70" x2="392.30" y2="335.70" stroke="#222" stroke-width="1.0"/>
<text x="394.30" y="342.30" font-size="6.6" text-anchor="end" font-weight="normal" fill="#262626" transform="rotate(-60 394.30 342.30)" stroke="#262626" stroke-width="0.2">5m</text>
<line x1="413.18" y1="332.70" x2="413.18" y2="335.70" stroke="#222" stroke-width="1.0"/>
<text x="415.18" y="342.30" font-size="6.6" text-anchor="end" font-weight="normal" fill="#262626" transform="rotate(-60 415.18 342.30)" stroke="#262626" stroke-width="0.2">8m</text>
<line x1="427.10" y1="332.70" x2="427.10" y2="335.70" stroke="#222" stroke-width="1.0"/>
<text x="429.10" y="342.30" font-size="6.6" text-anchor="end" font-weight="normal" fill="#262626" transform="rotate(-60 429.10 342.30)" stroke="#262626" stroke-width="0.2">10m</text>
<line x1="441.02" y1="332.70" x2="441.02" y2="335.70" stroke="#222" stroke-width="1.0"/>
<text x="443.02" y="342.30" font-size="6.6" text-anchor="end" font-weight="normal" fill="#262626" transform="rotate(-60 443.02 342.30)" stroke="#262626" stroke-width="0.2">12m</text>
<line x1="461.90" y1="332.70" x2="461.90" y2="335.70" stroke="#222" stroke-width="1.0"/>
<text x="463.90" y="342.30" font-size="6.6" text-anchor="end" font-weight="normal" fill="#262626" transform="rotate(-60 463.90 342.30)" stroke="#262626" stroke-width="0.2">15m</text>
<text class="yl" x="325.50" y="295.70" font-size="7.2" text-anchor="middle" fill="#2e2e2e" stroke="#2e2e2e" stroke-width="0.16" textLength="40.50" lengthAdjust="spacingAndGlyphs" transform="rotate(-90 325.50 295.70)">Ferritin (ng/L)</text>
<g clip-path="url(#clipFER)">
<path d="M357.50,291.22 L364.46,331.40 L378.38,332.00 L392.30,332.00 L413.18,331.97 L427.10,331.97" fill="none" stroke="#3eaa4e" stroke-width="0.9"/>
<path d="M357.50,274.17 L364.46,328.90 L378.38,332.00 L392.30,332.00 L413.18,331.97 L441.02,331.97" fill="none" stroke="#eb9248" stroke-width="0.9"/>
<path d="M357.50,318.21 L364.46,328.90 L378.38,332.00 L392.30,332.00 L413.18,331.97 L427.10,331.97" fill="none" stroke="#9a92dc" stroke-width="0.9"/>
<path d="M357.50,292.49 L364.46,308.80 L378.38,330.10 L392.30,332.00 L413.18,293.39 L441.02,331.33" fill="none" stroke="#e8cc2a" stroke-width="0.9"/>
<path d="M357.50,320.71 L364.46,328.90 L378.38,332.00" fill="none" stroke="#e8418a" stroke-width="0.9"/>
<path d="M357.50,291.22 L364.46,320.30 L378.38,330.10 L392.30,332.00" fill="none" stroke="#2a8068" stroke-width="0.9"/>
<path d="M357.50,330.10 L364.46,325.69 L378.38,332.00 L392.30,332.00" fill="none" stroke="#5cc0e8" stroke-width="0.9"/>
<path d="M357.50,289.30 L364.46,320.30 L378.38,332.00 L392.30,332.00 L413.18,331.97 L441.02,331.97 L461.90,331.97" fill="none" stroke="#4d5866" stroke-width="0.9"/>
<path d="M357.50,324.90 L364.46,331.40 L378.38,332.00 L392.30,332.00 L413.18,331.97 L441.02,331.97 L461.90,331.97" fill="none" stroke="#e0958a" stroke-width="0.9"/>
<path d="M357.50,273.27 L364.46,316.10 L378.38,323.60 L392.30,326.10 L413.18,331.97 L441.02,331.97" fill="none" stroke="#4b2e5e" stroke-width="0.9"/>
<circle cx="357.50" cy="291.22" r="1.2" fill="#3c7c48" stroke="#173a1e" stroke-width="0.7"/>
<circle cx="364.46" cy="331.40" r="1.2" fill="#3c7c48" stroke="#173a1e" stroke-width="0.7"/>
<circle cx="378.38" cy="332.00" r="1.2" fill="#3c7c48" stroke="#173a1e" stroke-width="0.7"/>
<circle cx="392.30" cy="332.00" r="1.2" fill="#3c7c48" stroke="#173a1e" stroke-width="0.7"/>
<circle cx="413.18" cy="331.97" r="1.2" fill="#3c7c48" stroke="#173a1e" stroke-width="0.7"/>
<circle cx="427.10" cy="331.97" r="1.2" fill="#3c7c48" stroke="#173a1e" stroke-width="0.7"/>
<circle cx="357.50" cy="274.17" r="1.2" fill="#9a6c48" stroke="#3e2a18" stroke-width="0.7"/>
<circle cx="364.46" cy="328.90" r="1.2" fill="#9a6c48" stroke="#3e2a18" stroke-width="0.7"/>
<circle cx="378.38" cy="332.00" r="1.2" fill="#9a6c48" stroke="#3e2a18" stroke-width="0.7"/>
<circle cx="392.30" cy="332.00" r="1.2" fill="#9a6c48" stroke="#3e2a18" stroke-width="0.7"/>
<circle cx="413.18" cy="331.97" r="1.2" fill="#9a6c48" stroke="#3e2a18" stroke-width="0.7"/>
<circle cx="441.02" cy="331.97" r="1.2" fill="#9a6c48" stroke="#3e2a18" stroke-width="0.7"/>
<circle cx="357.50" cy="318.21" r="1.2" fill="#8a7cb4" stroke="#3a3060" stroke-width="0.7"/>
<circle cx="364.46" cy="328.90" r="1.2" fill="#8a7cb4" stroke="#3a3060" stroke-width="0.7"/>
<circle cx="378.38" cy="332.00" r="1.2" fill="#8a7cb4" stroke="#3a3060" stroke-width="0.7"/>
<circle cx="392.30" cy="332.00" r="1.2" fill="#8a7cb4" stroke="#3a3060" stroke-width="0.7"/>
<circle cx="413.18" cy="331.97" r="1.2" fill="#8a7cb4" stroke="#3a3060" stroke-width="0.7"/>
<circle cx="427.10" cy="331.97" r="1.2" fill="#8a7cb4" stroke="#3a3060" stroke-width="0.7"/>
<circle cx="357.50" cy="292.49" r="1.2" fill="#d2b832" stroke="#3a3210" stroke-width="0.7"/>
<circle cx="364.46" cy="308.80" r="1.2" fill="#d2b832" stroke="#3a3210" stroke-width="0.7"/>
<circle cx="378.38" cy="330.10" r="1.2" fill="#d2b832" stroke="#3a3210" stroke-width="0.7"/>
<circle cx="392.30" cy="332.00" r="1.2" fill="#d2b832" stroke="#3a3210" stroke-width="0.7"/>
<circle cx="413.18" cy="293.39" r="1.2" fill="#d2b832" stroke="#3a3210" stroke-width="0.7"/>
<circle cx="441.02" cy="331.33" r="1.2" fill="#d2b832" stroke="#3a3210" stroke-width="0.7"/>
<circle cx="357.50" cy="320.71" r="1.2" fill="#b43a72" stroke="#5a1535" stroke-width="0.7"/>
<circle cx="364.46" cy="328.90" r="1.2" fill="#b43a72" stroke="#5a1535" stroke-width="0.7"/>
<circle cx="378.38" cy="332.00" r="1.2" fill="#b43a72" stroke="#5a1535" stroke-width="0.7"/>
<circle cx="357.50" cy="291.22" r="1.2" fill="#1e5248" stroke="#0d2a24" stroke-width="0.7"/>
<circle cx="364.46" cy="320.30" r="1.2" fill="#1e5248" stroke="#0d2a24" stroke-width="0.7"/>
<circle cx="378.38" cy="330.10" r="1.2" fill="#1e5248" stroke="#0d2a24" stroke-width="0.7"/>
<circle cx="392.30" cy="332.00" r="1.2" fill="#1e5248" stroke="#0d2a24" stroke-width="0.7"/>
<circle cx="357.50" cy="330.10" r="1.2" fill="#4f98a8" stroke="#1d4550" stroke-width="0.7"/>
<circle cx="364.46" cy="325.69" r="1.2" fill="#4f98a8" stroke="#1d4550" stroke-width="0.7"/>
<circle cx="378.38" cy="332.00" r="1.2" fill="#4f98a8" stroke="#1d4550" stroke-width="0.7"/>
<circle cx="392.30" cy="332.00" r="1.2" fill="#4f98a8" stroke="#1d4550" stroke-width="0.7"/>
<circle cx="357.50" cy="289.30" r="1.2" fill="#3b4550" stroke="#1c2228" stroke-width="0.7"/>
<circle cx="364.46" cy="320.30" r="1.2" fill="#3b4550" stroke="#1c2228" stroke-width="0.7"/>
<circle cx="378.38" cy="332.00" r="1.2" fill="#3b4550" stroke="#1c2228" stroke-width="0.7"/>
<circle cx="392.30" cy="332.00" r="1.2" fill="#3b4550" stroke="#1c2228" stroke-width="0.7"/>
<circle cx="413.18" cy="331.97" r="1.2" fill="#3b4550" stroke="#1c2228" stroke-width="0.7"/>
<circle cx="441.02" cy="331.97" r="1.2" fill="#3b4550" stroke="#1c2228" stroke-width="0.7"/>
<circle cx="461.90" cy="331.97" r="1.2" fill="#3b4550" stroke="#1c2228" stroke-width="0.7"/>
<circle cx="357.50" cy="324.90" r="1.2" fill="#b99a94" stroke="#6e5450" stroke-width="0.7"/>
<circle cx="364.46" cy="331.40" r="1.2" fill="#b99a94" stroke="#6e5450" stroke-width="0.7"/>
<circle cx="378.38" cy="332.00" r="1.2" fill="#b99a94" stroke="#6e5450" stroke-width="0.7"/>
<circle cx="392.30" cy="332.00" r="1.2" fill="#b99a94" stroke="#6e5450" stroke-width="0.7"/>
<circle cx="413.18" cy="331.97" r="1.2" fill="#b99a94" stroke="#6e5450" stroke-width="0.7"/>
<circle cx="441.02" cy="331.97" r="1.2" fill="#b99a94" stroke="#6e5450" stroke-width="0.7"/>
<circle cx="461.90" cy="331.97" r="1.2" fill="#b99a94" stroke="#6e5450" stroke-width="0.7"/>
<circle cx="357.50" cy="273.27" r="1.2" fill="#2b1d36" stroke="#151018" stroke-width="0.7"/>
<circle cx="364.46" cy="316.10" r="1.2" fill="#2b1d36" stroke="#151018" stroke-width="0.7"/>
<circle cx="378.38" cy="323.60" r="1.2" fill="#2b1d36" stroke="#151018" stroke-width="0.7"/>
<circle cx="392.30" cy="326.10" r="1.2" fill="#2b1d36" stroke="#151018" stroke-width="0.7"/>
<circle cx="413.18" cy="331.97" r="1.2" fill="#2b1d36" stroke="#151018" stroke-width="0.7"/>
<circle cx="441.02" cy="331.97" r="1.2" fill="#2b1d36" stroke="#151018" stroke-width="0.7"/>
</g>
<line x1="38.90" y1="398.50" x2="38.90" y2="470.00" stroke="#222" stroke-width="1.2"/>
<line x1="38.30" y1="470.00" x2="151.60" y2="470.00" stroke="#222" stroke-width="1.2"/>
<line x1="35.90" y1="470.00" x2="38.90" y2="470.00" stroke="#222" stroke-width="1.0"/>
<text x="33.50" y="472.40" font-size="6.6" text-anchor="end" font-weight="normal" fill="#333" textLength="3.36" lengthAdjust="spacingAndGlyphs">0</text>
<line x1="35.90" y1="446.90" x2="38.90" y2="446.90" stroke="#222" stroke-width="1.0"/>
<text x="33.50" y="449.30" font-size="6.6" text-anchor="end" font-weight="normal" fill="#333" textLength="3.36" lengthAdjust="spacingAndGlyphs">5</text>
<line x1="35.90" y1="423.70" x2="38.90" y2="423.70" stroke="#222" stroke-width="1.0"/>
<text x="33.50" y="426.10" font-size="6.6" text-anchor="end" font-weight="normal" fill="#333" textLength="6.73" lengthAdjust="spacingAndGlyphs">10</text>
<line x1="35.90" y1="400.50" x2="38.90" y2="400.50" stroke="#222" stroke-width="1.0"/>
<text x="33.50" y="402.90" font-size="6.6" text-anchor="end" font-weight="normal" fill="#333" textLength="6.73" lengthAdjust="spacingAndGlyphs">15</text>
<line x1="42.40" y1="470.00" x2="42.40" y2="473.00" stroke="#222" stroke-width="1.0"/>
<text x="43.60" y="478.50" font-size="6.5" text-anchor="end" font-weight="normal" fill="#262626" transform="rotate(-60 43.60 478.50)" stroke="#262626" stroke-width="0.2">baseline</text>
<line x1="49.35" y1="470.00" x2="49.35" y2="473.00" stroke="#222" stroke-width="1.0"/>
<text x="51.35" y="479.60" font-size="6.6" text-anchor="end" font-weight="normal" fill="#262626" transform="rotate(-60 51.35 479.60)" stroke="#262626" stroke-width="0.2">1m</text>
<line x1="63.25" y1="470.00" x2="63.25" y2="473.00" stroke="#222" stroke-width="1.0"/>
<text x="65.25" y="479.60" font-size="6.6" text-anchor="end" font-weight="normal" fill="#262626" transform="rotate(-60 65.25 479.60)" stroke="#262626" stroke-width="0.2">3m</text>
<line x1="77.15" y1="470.00" x2="77.15" y2="473.00" stroke="#222" stroke-width="1.0"/>
<text x="79.15" y="479.60" font-size="6.6" text-anchor="end" font-weight="normal" fill="#262626" transform="rotate(-60 79.15 479.60)" stroke="#262626" stroke-width="0.2">5m</text>
<line x1="98.00" y1="470.00" x2="98.00" y2="473.00" stroke="#222" stroke-width="1.0"/>
<text x="100.00" y="479.60" font-size="6.6" text-anchor="end" font-weight="normal" fill="#262626" transform="rotate(-60 100.00 479.60)" stroke="#262626" stroke-width="0.2">8m</text>
<line x1="111.90" y1="470.00" x2="111.90" y2="473.00" stroke="#222" stroke-width="1.0"/>
<text x="113.90" y="479.60" font-size="6.6" text-anchor="end" font-weight="normal" fill="#262626" transform="rotate(-60 113.90 479.60)" stroke="#262626" stroke-width="0.2">10m</text>
<line x1="125.80" y1="470.00" x2="125.80" y2="473.00" stroke="#222" stroke-width="1.0"/>
<text x="127.80" y="479.60" font-size="6.6" text-anchor="end" font-weight="normal" fill="#262626" transform="rotate(-60 127.80 479.60)" stroke="#262626" stroke-width="0.2">12m</text>
<line x1="146.65" y1="470.00" x2="146.65" y2="473.00" stroke="#222" stroke-width="1.0"/>
<text x="148.65" y="479.60" font-size="6.6" text-anchor="end" font-weight="normal" fill="#262626" transform="rotate(-60 148.65 479.60)" stroke="#262626" stroke-width="0.2">15m</text>
<text class="yl" x="21.00" y="433.85" font-size="7.2" text-anchor="middle" fill="#2e2e2e" stroke="#2e2e2e" stroke-width="0.16" textLength="43.20" lengthAdjust="spacingAndGlyphs" transform="rotate(-90 21.00 433.85)">Systemic score</text>
<path d="M42.40,451.47 L49.35,460.73 L63.25,464.44" fill="none" stroke="#3eaa4e" stroke-width="0.9"/>
<path d="M42.40,423.67 L49.35,470.00 L63.25,470.00 L77.15,470.00 L98.00,470.00 L125.80,470.00" fill="none" stroke="#eb9248" stroke-width="0.9"/>
<path d="M42.40,432.93 L49.35,465.37 L63.25,470.00 L77.15,470.00 L98.00,470.00 L111.90,470.00" fill="none" stroke="#9a92dc" stroke-width="0.9"/>
<path d="M42.40,419.03 L49.35,470.00 L63.25,470.00 L77.15,470.00 L98.00,456.10 L125.80,470.00" fill="none" stroke="#e8cc2a" stroke-width="0.9"/>
<path d="M42.40,456.10 L49.35,465.37 L63.25,465.37" fill="none" stroke="#e8418a" stroke-width="0.9"/>
<path d="M42.40,442.20 L49.35,470.00 L63.25,470.00" fill="none" stroke="#2a8068" stroke-width="0.9"/>
<path d="M42.40,432.93 L49.35,470.00 L63.25,470.00" fill="none" stroke="#5cc0e8" stroke-width="0.9"/>
<path d="M42.40,442.20 L49.35,465.37 L63.25,470.00 L77.15,470.00 L98.00,470.00 L125.80,470.00 L146.65,470.00" fill="none" stroke="#4d5866" stroke-width="0.9"/>
<path d="M42.40,456.10 L49.35,470.00 L63.25,470.00 L77.15,470.00 L98.00,470.00 L125.80,465.37 L146.65,465.37" fill="none" stroke="#e0958a" stroke-width="0.9"/>
<path d="M42.40,437.57 L49.35,465.37 L63.25,470.00 L77.15,470.00 L98.00,470.00 L125.80,470.00" fill="none" stroke="#4b2e5e" stroke-width="0.9"/>
<circle cx="42.40" cy="451.47" r="1.2" fill="#3c7c48" stroke="#173a1e" stroke-width="0.7"/>
<circle cx="49.35" cy="460.73" r="1.2" fill="#3c7c48" stroke="#173a1e" stroke-width="0.7"/>
<circle cx="63.25" cy="464.44" r="1.2" fill="#3c7c48" stroke="#173a1e" stroke-width="0.7"/>
<circle cx="42.40" cy="423.67" r="1.2" fill="#9a6c48" stroke="#3e2a18" stroke-width="0.7"/>
<circle cx="49.35" cy="470.00" r="1.2" fill="#9a6c48" stroke="#3e2a18" stroke-width="0.7"/>
<circle cx="63.25" cy="470.00" r="1.2" fill="#9a6c48" stroke="#3e2a18" stroke-width="0.7"/>
<circle cx="77.15" cy="470.00" r="1.2" fill="#9a6c48" stroke="#3e2a18" stroke-width="0.7"/>
<circle cx="98.00" cy="470.00" r="1.2" fill="#9a6c48" stroke="#3e2a18" stroke-width="0.7"/>
<circle cx="125.80" cy="470.00" r="1.2" fill="#9a6c48" stroke="#3e2a18" stroke-width="0.7"/>
<circle cx="42.40" cy="432.93" r="1.2" fill="#8a7cb4" stroke="#3a3060" stroke-width="0.7"/>
<circle cx="49.35" cy="465.37" r="1.2" fill="#8a7cb4" stroke="#3a3060" stroke-width="0.7"/>
<circle cx="63.25" cy="470.00" r="1.2" fill="#8a7cb4" stroke="#3a3060" stroke-width="0.7"/>
<circle cx="77.15" cy="470.00" r="1.2" fill="#8a7cb4" stroke="#3a3060" stroke-width="0.7"/>
<circle cx="98.00" cy="470.00" r="1.2" fill="#8a7cb4" stroke="#3a3060" stroke-width="0.7"/>
<circle cx="111.90" cy="470.00" r="1.2" fill="#8a7cb4" stroke="#3a3060" stroke-width="0.7"/>
<circle cx="42.40" cy="419.03" r="1.2" fill="#d2b832" stroke="#3a3210" stroke-width="0.7"/>
<circle cx="49.35" cy="470.00" r="1.2" fill="#d2b832" stroke="#3a3210" stroke-width="0.7"/>
<circle cx="63.25" cy="470.00" r="1.2" fill="#d2b832" stroke="#3a3210" stroke-width="0.7"/>
<circle cx="77.15" cy="470.00" r="1.2" fill="#d2b832" stroke="#3a3210" stroke-width="0.7"/>
<circle cx="98.00" cy="456.10" r="1.2" fill="#d2b832" stroke="#3a3210" stroke-width="0.7"/>
<circle cx="125.80" cy="470.00" r="1.2" fill="#d2b832" stroke="#3a3210" stroke-width="0.7"/>
<circle cx="42.40" cy="456.10" r="1.2" fill="#b43a72" stroke="#5a1535" stroke-width="0.7"/>
<circle cx="49.35" cy="465.37" r="1.2" fill="#b43a72" stroke="#5a1535" stroke-width="0.7"/>
<circle cx="63.25" cy="465.37" r="1.2" fill="#b43a72" stroke="#5a1535" stroke-width="0.7"/>
<circle cx="42.40" cy="442.20" r="1.2" fill="#1e5248" stroke="#0d2a24" stroke-width="0.7"/>
<circle cx="49.35" cy="470.00" r="1.2" fill="#1e5248" stroke="#0d2a24" stroke-width="0.7"/>
<circle cx="63.25" cy="470.00" r="1.2" fill="#1e5248" stroke="#0d2a24" stroke-width="0.7"/>
<circle cx="42.40" cy="432.93" r="1.2" fill="#4f98a8" stroke="#1d4550" stroke-width="0.7"/>
<circle cx="49.35" cy="470.00" r="1.2" fill="#4f98a8" stroke="#1d4550" stroke-width="0.7"/>
<circle cx="63.25" cy="470.00" r="1.2" fill="#4f98a8" stroke="#1d4550" stroke-width="0.7"/>
<circle cx="42.40" cy="442.20" r="1.2" fill="#3b4550" stroke="#1c2228" stroke-width="0.7"/>
<circle cx="49.35" cy="465.37" r="1.2" fill="#3b4550" stroke="#1c2228" stroke-width="0.7"/>
<circle cx="63.25" cy="470.00" r="1.2" fill="#3b4550" stroke="#1c2228" stroke-width="0.7"/>
<circle cx="77.15" cy="470.00" r="1.2" fill="#3b4550" stroke="#1c2228" stroke-width="0.7"/>
<circle cx="98.00" cy="470.00" r="1.2" fill="#3b4550" stroke="#1c2228" stroke-width="0.7"/>
<circle cx="125.80" cy="470.00" r="1.2" fill="#3b4550" stroke="#1c2228" stroke-width="0.7"/>
<circle cx="146.65" cy="470.00" r="1.2" fill="#3b4550" stroke="#1c2228" stroke-width="0.7"/>
<circle cx="42.40" cy="456.10" r="1.2" fill="#b99a94" stroke="#6e5450" stroke-width="0.7"/>
<circle cx="49.35" cy="470.00" r="1.2" fill="#b99a94" stroke="#6e5450" stroke-width="0.7"/>
<circle cx="63.25" cy="470.00" r="1.2" fill="#b99a94" stroke="#6e5450" stroke-width="0.7"/>
<circle cx="77.15" cy="470.00" r="1.2" fill="#b99a94" stroke="#6e5450" stroke-width="0.7"/>
<circle cx="98.00" cy="470.00" r="1.2" fill="#b99a94" stroke="#6e5450" stroke-width="0.7"/>
<circle cx="125.80" cy="465.37" r="1.2" fill="#b99a94" stroke="#6e5450" stroke-width="0.7"/>
<circle cx="146.65" cy="465.37" r="1.2" fill="#b99a94" stroke="#6e5450" stroke-width="0.7"/>
<circle cx="42.40" cy="437.57" r="1.2" fill="#2b1d36" stroke="#151018" stroke-width="0.7"/>
<circle cx="49.35" cy="465.37" r="1.2" fill="#2b1d36" stroke="#151018" stroke-width="0.7"/>
<circle cx="63.25" cy="470.00" r="1.2" fill="#2b1d36" stroke="#151018" stroke-width="0.7"/>
<circle cx="77.15" cy="470.00" r="1.2" fill="#2b1d36" stroke="#151018" stroke-width="0.7"/>
<circle cx="98.00" cy="470.00" r="1.2" fill="#2b1d36" stroke="#151018" stroke-width="0.7"/>
<circle cx="125.80" cy="470.00" r="1.2" fill="#2b1d36" stroke="#151018" stroke-width="0.7"/>
<line x1="192.90" y1="398.70" x2="192.90" y2="469.80" stroke="#222" stroke-width="1.2"/>
<line x1="192.30" y1="469.80" x2="304.90" y2="469.80" stroke="#222" stroke-width="1.2"/>
<line x1="189.90" y1="469.80" x2="192.90" y2="469.80" stroke="#222" stroke-width="1.0"/>
<text x="186.70" y="472.20" font-size="6.6" text-anchor="end" font-weight="normal" fill="#333" textLength="3.36" lengthAdjust="spacingAndGlyphs">0</text>
<line x1="189.90" y1="447.00" x2="192.90" y2="447.00" stroke="#222" stroke-width="1.0"/>
<text x="186.70" y="449.40" font-size="6.6" text-anchor="end" font-weight="normal" fill="#333" textLength="10.09" lengthAdjust="spacingAndGlyphs">100</text>
<line x1="189.90" y1="424.20" x2="192.90" y2="424.20" stroke="#222" stroke-width="1.0"/>
<text x="186.70" y="426.60" font-size="6.6" text-anchor="end" font-weight="normal" fill="#333" textLength="10.09" lengthAdjust="spacingAndGlyphs">200</text>
<line x1="189.90" y1="401.30" x2="192.90" y2="401.30" stroke="#222" stroke-width="1.0"/>
<text x="186.70" y="403.70" font-size="6.6" text-anchor="end" font-weight="normal" fill="#333" textLength="10.09" lengthAdjust="spacingAndGlyphs">300</text>
<line x1="196.40" y1="469.80" x2="196.40" y2="472.80" stroke="#222" stroke-width="1.0"/>
<text x="197.60" y="478.30" font-size="6.5" text-anchor="end" font-weight="normal" fill="#262626" transform="rotate(-60 197.60 478.30)" stroke="#262626" stroke-width="0.2">baseline</text>
<line x1="203.33" y1="469.80" x2="203.33" y2="472.80" stroke="#222" stroke-width="1.0"/>
<text x="205.33" y="479.40" font-size="6.6" text-anchor="end" font-weight="normal" fill="#262626" transform="rotate(-60 205.33 479.40)" stroke="#262626" stroke-width="0.2">1m</text>
<line x1="217.19" y1="469.80" x2="217.19" y2="472.80" stroke="#222" stroke-width="1.0"/>
<text x="219.19" y="479.40" font-size="6.6" text-anchor="end" font-weight="normal" fill="#262626" transform="rotate(-60 219.19 479.40)" stroke="#262626" stroke-width="0.2">3m</text>
<line x1="231.05" y1="469.80" x2="231.05" y2="472.80" stroke="#222" stroke-width="1.0"/>
<text x="233.05" y="479.40" font-size="6.6" text-anchor="end" font-weight="normal" fill="#262626" transform="rotate(-60 233.05 479.40)" stroke="#262626" stroke-width="0.2">5m</text>
<line x1="251.84" y1="469.80" x2="251.84" y2="472.80" stroke="#222" stroke-width="1.0"/>
<text x="253.84" y="479.40" font-size="6.6" text-anchor="end" font-weight="normal" fill="#262626" transform="rotate(-60 253.84 479.40)" stroke="#262626" stroke-width="0.2">8m</text>
<line x1="265.70" y1="469.80" x2="265.70" y2="472.80" stroke="#222" stroke-width="1.0"/>
<text x="267.70" y="479.40" font-size="6.6" text-anchor="end" font-weight="normal" fill="#262626" transform="rotate(-60 267.70 479.40)" stroke="#262626" stroke-width="0.2">10m</text>
<line x1="279.56" y1="469.80" x2="279.56" y2="472.80" stroke="#222" stroke-width="1.0"/>
<text x="281.56" y="479.40" font-size="6.6" text-anchor="end" font-weight="normal" fill="#262626" transform="rotate(-60 281.56 479.40)" stroke="#262626" stroke-width="0.2">12m</text>
<line x1="300.35" y1="469.80" x2="300.35" y2="472.80" stroke="#222" stroke-width="1.0"/>
<text x="302.35" y="479.40" font-size="6.6" text-anchor="end" font-weight="normal" fill="#262626" transform="rotate(-60 302.35 479.40)" stroke="#262626" stroke-width="0.2">15m</text>
<text class="yl" x="171.60" y="434.00" font-size="8.0" text-anchor="middle" fill="#2e2e2e" stroke="#2e2e2e" stroke-width="0.16" textLength="20.50" lengthAdjust="spacingAndGlyphs" transform="rotate(-90 171.60 434.00)">HScore</text>
<path d="M196.40,421.85 L203.33,465.69" fill="none" stroke="#3eaa4e" stroke-width="0.9"/>
<path d="M196.40,426.42 L203.33,465.69 L217.19,465.69 L231.05,465.69" fill="none" stroke="#eb9248" stroke-width="0.9"/>
<path d="M196.40,438.52 L203.33,465.69 L217.19,465.69 L231.05,465.69" fill="none" stroke="#9a92dc" stroke-width="0.9"/>
<path d="M196.40,417.51 L203.33,465.69 L217.19,465.69 L231.05,465.69 L251.84,465.69 L279.56,465.69" fill="none" stroke="#e8cc2a" stroke-width="0.9"/>
<path d="M196.40,438.52 L203.33,465.69 L217.19,465.69" fill="none" stroke="#e8418a" stroke-width="0.9"/>
<path d="M196.40,411.35 L203.33,454.50 L217.19,465.69" fill="none" stroke="#2a8068" stroke-width="0.9"/>
<path d="M196.40,421.85 L203.33,465.69 L217.19,465.69" fill="none" stroke="#5cc0e8" stroke-width="0.9"/>
<path d="M196.40,411.35 L203.33,454.50 L217.19,465.69 L231.05,465.69 L251.84,465.69 L265.70,465.69 L279.56,465.69" fill="none" stroke="#4d5866" stroke-width="0.9"/>
<path d="M196.40,448.56 L203.33,465.69 L217.19,465.69 L231.05,465.69 L251.84,465.69 L279.56,461.81 L300.35,461.81" fill="none" stroke="#e0958a" stroke-width="0.9"/>
<path d="M196.40,405.64 L203.33,465.69 L217.19,465.69 L231.05,465.69 L251.84,465.69 L279.56,465.69 L300.35,465.69" fill="none" stroke="#4b2e5e" stroke-width="0.9"/>
<circle cx="196.40" cy="421.85" r="1.2" fill="#3c7c48" stroke="#173a1e" stroke-width="0.7"/>
<circle cx="203.33" cy="465.69" r="1.2" fill="#3c7c48" stroke="#173a1e" stroke-width="0.7"/>
<circle cx="196.40" cy="426.42" r="1.2" fill="#9a6c48" stroke="#3e2a18" stroke-width="0.7"/>
<circle cx="203.33" cy="465.69" r="1.2" fill="#9a6c48" stroke="#3e2a18" stroke-width="0.7"/>
<circle cx="217.19" cy="465.69" r="1.2" fill="#9a6c48" stroke="#3e2a18" stroke-width="0.7"/>
<circle cx="231.05" cy="465.69" r="1.2" fill="#9a6c48" stroke="#3e2a18" stroke-width="0.7"/>
<circle cx="196.40" cy="438.52" r="1.2" fill="#8a7cb4" stroke="#3a3060" stroke-width="0.7"/>
<circle cx="203.33" cy="465.69" r="1.2" fill="#8a7cb4" stroke="#3a3060" stroke-width="0.7"/>
<circle cx="217.19" cy="465.69" r="1.2" fill="#8a7cb4" stroke="#3a3060" stroke-width="0.7"/>
<circle cx="231.05" cy="465.69" r="1.2" fill="#8a7cb4" stroke="#3a3060" stroke-width="0.7"/>
<circle cx="196.40" cy="417.51" r="1.2" fill="#d2b832" stroke="#3a3210" stroke-width="0.7"/>
<circle cx="203.33" cy="465.69" r="1.2" fill="#d2b832" stroke="#3a3210" stroke-width="0.7"/>
<circle cx="217.19" cy="465.69" r="1.2" fill="#d2b832" stroke="#3a3210" stroke-width="0.7"/>
<circle cx="231.05" cy="465.69" r="1.2" fill="#d2b832" stroke="#3a3210" stroke-width="0.7"/>
<circle cx="251.84" cy="465.69" r="1.2" fill="#d2b832" stroke="#3a3210" stroke-width="0.7"/>
<circle cx="279.56" cy="465.69" r="1.2" fill="#d2b832" stroke="#3a3210" stroke-width="0.7"/>
<circle cx="196.40" cy="438.52" r="1.2" fill="#b43a72" stroke="#5a1535" stroke-width="0.7"/>
<circle cx="203.33" cy="465.69" r="1.2" fill="#b43a72" stroke="#5a1535" stroke-width="0.7"/>
<circle cx="217.19" cy="465.69" r="1.2" fill="#b43a72" stroke="#5a1535" stroke-width="0.7"/>
<circle cx="196.40" cy="411.35" r="1.2" fill="#1e5248" stroke="#0d2a24" stroke-width="0.7"/>
<circle cx="203.33" cy="454.50" r="1.2" fill="#1e5248" stroke="#0d2a24" stroke-width="0.7"/>
<circle cx="217.19" cy="465.69" r="1.2" fill="#1e5248" stroke="#0d2a24" stroke-width="0.7"/>
<circle cx="196.40" cy="421.85" r="1.2" fill="#4f98a8" stroke="#1d4550" stroke-width="0.7"/>
<circle cx="203.33" cy="465.69" r="1.2" fill="#4f98a8" stroke="#1d4550" stroke-width="0.7"/>
<circle cx="217.19" cy="465.69" r="1.2" fill="#4f98a8" stroke="#1d4550" stroke-width="0.7"/>
<circle cx="196.40" cy="411.35" r="1.2" fill="#3b4550" stroke="#1c2228" stroke-width="0.7"/>
<circle cx="203.33" cy="454.50" r="1.2" fill="#3b4550" stroke="#1c2228" stroke-width="0.7"/>
<circle cx="217.19" cy="465.69" r="1.2" fill="#3b4550" stroke="#1c2228" stroke-width="0.7"/>
<circle cx="231.05" cy="465.69" r="1.2" fill="#3b4550" stroke="#1c2228" stroke-width="0.7"/>
<circle cx="251.84" cy="465.69" r="1.2" fill="#3b4550" stroke="#1c2228" stroke-width="0.7"/>
<circle cx="265.70" cy="465.69" r="1.2" fill="#3b4550" stroke="#1c2228" stroke-width="0.7"/>
<circle cx="279.56" cy="465.69" r="1.2" fill="#3b4550" stroke="#1c2228" stroke-width="0.7"/>
<circle cx="196.40" cy="448.56" r="1.2" fill="#b99a94" stroke="#6e5450" stroke-width="0.7"/>
<circle cx="203.33" cy="465.69" r="1.2" fill="#b99a94" stroke="#6e5450" stroke-width="0.7"/>
<circle cx="217.19" cy="465.69" r="1.2" fill="#b99a94" stroke="#6e5450" stroke-width="0.7"/>
<circle cx="231.05" cy="465.69" r="1.2" fill="#b99a94" stroke="#6e5450" stroke-width="0.7"/>
<circle cx="251.84" cy="465.69" r="1.2" fill="#b99a94" stroke="#6e5450" stroke-width="0.7"/>
<circle cx="279.56" cy="461.81" r="1.2" fill="#b99a94" stroke="#6e5450" stroke-width="0.7"/>
<circle cx="300.35" cy="461.81" r="1.2" fill="#b99a94" stroke="#6e5450" stroke-width="0.7"/>
<circle cx="196.40" cy="405.64" r="1.2" fill="#2b1d36" stroke="#151018" stroke-width="0.7"/>
<circle cx="203.33" cy="465.69" r="1.2" fill="#2b1d36" stroke="#151018" stroke-width="0.7"/>
<circle cx="217.19" cy="465.69" r="1.2" fill="#2b1d36" stroke="#151018" stroke-width="0.7"/>
<circle cx="231.05" cy="465.69" r="1.2" fill="#2b1d36" stroke="#151018" stroke-width="0.7"/>
<circle cx="251.84" cy="465.69" r="1.2" fill="#2b1d36" stroke="#151018" stroke-width="0.7"/>
<circle cx="279.56" cy="465.69" r="1.2" fill="#2b1d36" stroke="#151018" stroke-width="0.7"/>
<circle cx="300.35" cy="465.69" r="1.2" fill="#2b1d36" stroke="#151018" stroke-width="0.7"/>
<line x1="354.20" y1="398.50" x2="354.20" y2="469.80" stroke="#222" stroke-width="1.2"/>
<line x1="353.60" y1="469.80" x2="466.60" y2="469.80" stroke="#222" stroke-width="1.2"/>
<line x1="351.20" y1="469.80" x2="354.20" y2="469.80" stroke="#222" stroke-width="1.0"/>
<text x="347.60" y="472.20" font-size="6.6" text-anchor="end" font-weight="normal" fill="#333" textLength="3.36" lengthAdjust="spacingAndGlyphs">0</text>
<line x1="351.20" y1="446.90" x2="354.20" y2="446.90" stroke="#222" stroke-width="1.0"/>
<text x="347.60" y="449.30" font-size="6.6" text-anchor="end" font-weight="normal" fill="#333" textLength="10.09" lengthAdjust="spacingAndGlyphs">100</text>
<line x1="351.20" y1="424.00" x2="354.20" y2="424.00" stroke="#222" stroke-width="1.0"/>
<text x="347.60" y="426.40" font-size="6.6" text-anchor="end" font-weight="normal" fill="#333" textLength="10.09" lengthAdjust="spacingAndGlyphs">200</text>
<line x1="351.20" y1="400.90" x2="354.20" y2="400.90" stroke="#222" stroke-width="1.0"/>
<text x="347.60" y="403.30" font-size="6.6" text-anchor="end" font-weight="normal" fill="#333" textLength="10.09" lengthAdjust="spacingAndGlyphs">300</text>
<line x1="357.50" y1="469.80" x2="357.50" y2="472.80" stroke="#222" stroke-width="1.0"/>
<text x="358.70" y="478.30" font-size="6.5" text-anchor="end" font-weight="normal" fill="#262626" transform="rotate(-60 358.70 478.30)" stroke="#262626" stroke-width="0.2">baseline</text>
<line x1="364.46" y1="469.80" x2="364.46" y2="472.80" stroke="#222" stroke-width="1.0"/>
<text x="366.46" y="479.40" font-size="6.6" text-anchor="end" font-weight="normal" fill="#262626" transform="rotate(-60 366.46 479.40)" stroke="#262626" stroke-width="0.2">1m</text>
<line x1="378.38" y1="469.80" x2="378.38" y2="472.80" stroke="#222" stroke-width="1.0"/>
<text x="380.38" y="479.40" font-size="6.6" text-anchor="end" font-weight="normal" fill="#262626" transform="rotate(-60 380.38 479.40)" stroke="#262626" stroke-width="0.2">3m</text>
<line x1="392.30" y1="469.80" x2="392.30" y2="472.80" stroke="#222" stroke-width="1.0"/>
<text x="394.30" y="479.40" font-size="6.6" text-anchor="end" font-weight="normal" fill="#262626" transform="rotate(-60 394.30 479.40)" stroke="#262626" stroke-width="0.2">5m</text>
<line x1="413.18" y1="469.80" x2="413.18" y2="472.80" stroke="#222" stroke-width="1.0"/>
<text x="415.18" y="479.40" font-size="6.6" text-anchor="end" font-weight="normal" fill="#262626" transform="rotate(-60 415.18 479.40)" stroke="#262626" stroke-width="0.2">8m</text>
<line x1="427.10" y1="469.80" x2="427.10" y2="472.80" stroke="#222" stroke-width="1.0"/>
<text x="429.10" y="479.40" font-size="6.6" text-anchor="end" font-weight="normal" fill="#262626" transform="rotate(-60 429.10 479.40)" stroke="#262626" stroke-width="0.2">10m</text>
<line x1="441.02" y1="469.80" x2="441.02" y2="472.80" stroke="#222" stroke-width="1.0"/>
<text x="443.02" y="479.40" font-size="6.6" text-anchor="end" font-weight="normal" fill="#262626" transform="rotate(-60 443.02 479.40)" stroke="#262626" stroke-width="0.2">12m</text>
<line x1="461.90" y1="469.80" x2="461.90" y2="472.80" stroke="#222" stroke-width="1.0"/>
<text x="463.90" y="479.40" font-size="6.6" text-anchor="end" font-weight="normal" fill="#262626" transform="rotate(-60 463.90 479.40)" stroke="#262626" stroke-width="0.2">15m</text>
<text class="yl" x="332.60" y="433.95" font-size="7.2" text-anchor="middle" fill="#2e2e2e" stroke="#2e2e2e" stroke-width="0.16" textLength="52.60" lengthAdjust="spacingAndGlyphs" transform="rotate(-90 332.60 433.95)">Pred dosage (mg)</text>
<path d="M357.50,442.24 L364.46,456.48 L378.38,460.84 L392.30,464.06" fill="none" stroke="#3eaa4e" stroke-width="0.9"/>
<path d="M357.50,455.10 L364.46,460.15 L378.38,466.81 L392.30,467.73 L413.18,468.65 L441.02,468.65" fill="none" stroke="#eb9248" stroke-width="0.9"/>
<path d="M357.50,447.06 L364.46,460.15 L378.38,464.52 L392.30,467.73 L413.18,468.65 L427.10,468.65" fill="none" stroke="#9a92dc" stroke-width="0.9"/>
<path d="M357.50,424.33 L364.46,458.32 L378.38,462.91 L392.30,465.90 L413.18,461.30 L427.10,465.44 L441.02,467.96" fill="none" stroke="#e8cc2a" stroke-width="0.9"/>
<path d="M357.50,458.78 L364.46,460.15 L378.38,464.52" fill="none" stroke="#e8418a" stroke-width="0.9"/>
<path d="M357.50,447.06 L364.46,458.32 L378.38,460.84 L392.30,464.06" fill="none" stroke="#2a8068" stroke-width="0.9"/>
<path d="M357.50,410.55 L364.46,456.48 L378.38,460.84 L392.30,464.06" fill="none" stroke="#5cc0e8" stroke-width="0.9"/>
<path d="M357.50,447.06 L364.46,460.15 L378.38,462.91 L392.30,464.06 L413.18,467.50 L441.02,468.65 L461.90,468.65" fill="none" stroke="#4d5866" stroke-width="0.9"/>
<path d="M357.50,455.10 L364.46,464.06 L378.38,464.52 L392.30,465.90 L413.18,467.50 L441.02,468.65 L461.90,468.65" fill="none" stroke="#e0958a" stroke-width="0.9"/>
<path d="M357.50,440.17 L364.46,458.32 L378.38,462.91 L392.30,465.90 L413.18,467.50 L441.02,468.65" fill="none" stroke="#4b2e5e" stroke-width="0.9"/>
<circle cx="357.50" cy="442.24" r="1.2" fill="#3c7c48" stroke="#173a1e" stroke-width="0.7"/>
<circle cx="364.46" cy="456.48" r="1.2" fill="#3c7c48" stroke="#173a1e" stroke-width="0.7"/>
<circle cx="378.38" cy="460.84" r="1.2" fill="#3c7c48" stroke="#173a1e" stroke-width="0.7"/>
<circle cx="392.30" cy="464.06" r="1.2" fill="#3c7c48" stroke="#173a1e" stroke-width="0.7"/>
<circle cx="357.50" cy="455.10" r="1.2" fill="#9a6c48" stroke="#3e2a18" stroke-width="0.7"/>
<circle cx="364.46" cy="460.15" r="1.2" fill="#9a6c48" stroke="#3e2a18" stroke-width="0.7"/>
<circle cx="378.38" cy="466.81" r="1.2" fill="#9a6c48" stroke="#3e2a18" stroke-width="0.7"/>
<circle cx="392.30" cy="467.73" r="1.2" fill="#9a6c48" stroke="#3e2a18" stroke-width="0.7"/>
<circle cx="413.18" cy="468.65" r="1.2" fill="#9a6c48" stroke="#3e2a18" stroke-width="0.7"/>
<circle cx="441.02" cy="468.65" r="1.2" fill="#9a6c48" stroke="#3e2a18" stroke-width="0.7"/>
<circle cx="357.50" cy="447.06" r="1.2" fill="#8a7cb4" stroke="#3a3060" stroke-width="0.7"/>
<circle cx="364.46" cy="460.15" r="1.2" fill="#8a7cb4" stroke="#3a3060" stroke-width="0.7"/>
<circle cx="378.38" cy="464.52" r="1.2" fill="#8a7cb4" stroke="#3a3060" stroke-width="0.7"/>
<circle cx="392.30" cy="467.73" r="1.2" fill="#8a7cb4" stroke="#3a3060" stroke-width="0.7"/>
<circle cx="413.18" cy="468.65" r="1.2" fill="#8a7cb4" stroke="#3a3060" stroke-width="0.7"/>
<circle cx="427.10" cy="468.65" r="1.2" fill="#8a7cb4" stroke="#3a3060" stroke-width="0.7"/>
<circle cx="357.50" cy="424.33" r="1.2" fill="#d2b832" stroke="#3a3210" stroke-width="0.7"/>
<circle cx="364.46" cy="458.32" r="1.2" fill="#d2b832" stroke="#3a3210" stroke-width="0.7"/>
<circle cx="378.38" cy="462.91" r="1.2" fill="#d2b832" stroke="#3a3210" stroke-width="0.7"/>
<circle cx="392.30" cy="465.90" r="1.2" fill="#d2b832" stroke="#3a3210" stroke-width="0.7"/>
<circle cx="413.18" cy="461.30" r="1.2" fill="#d2b832" stroke="#3a3210" stroke-width="0.7"/>
<circle cx="427.10" cy="465.44" r="1.2" fill="#d2b832" stroke="#3a3210" stroke-width="0.7"/>
<circle cx="441.02" cy="467.96" r="1.2" fill="#d2b832" stroke="#3a3210" stroke-width="0.7"/>
<circle cx="357.50" cy="458.78" r="1.2" fill="#b43a72" stroke="#5a1535" stroke-width="0.7"/>
<circle cx="364.46" cy="460.15" r="1.2" fill="#b43a72" stroke="#5a1535" stroke-width="0.7"/>
<circle cx="378.38" cy="464.52" r="1.2" fill="#b43a72" stroke="#5a1535" stroke-width="0.7"/>
<circle cx="357.50" cy="447.06" r="1.2" fill="#1e5248" stroke="#0d2a24" stroke-width="0.7"/>
<circle cx="364.46" cy="458.32" r="1.2" fill="#1e5248" stroke="#0d2a24" stroke-width="0.7"/>
<circle cx="378.38" cy="460.84" r="1.2" fill="#1e5248" stroke="#0d2a24" stroke-width="0.7"/>
<circle cx="392.30" cy="464.06" r="1.2" fill="#1e5248" stroke="#0d2a24" stroke-width="0.7"/>
<circle cx="357.50" cy="410.55" r="1.2" fill="#4f98a8" stroke="#1d4550" stroke-width="0.7"/>
<circle cx="364.46" cy="456.48" r="1.2" fill="#4f98a8" stroke="#1d4550" stroke-width="0.7"/>
<circle cx="378.38" cy="460.84" r="1.2" fill="#4f98a8" stroke="#1d4550" stroke-width="0.7"/>
<circle cx="392.30" cy="464.06" r="1.2" fill="#4f98a8" stroke="#1d4550" stroke-width="0.7"/>
<circle cx="357.50" cy="447.06" r="1.2" fill="#3b4550" stroke="#1c2228" stroke-width="0.7"/>
<circle cx="364.46" cy="460.15" r="1.2" fill="#3b4550" stroke="#1c2228" stroke-width="0.7"/>
<circle cx="378.38" cy="462.91" r="1.2" fill="#3b4550" stroke="#1c2228" stroke-width="0.7"/>
<circle cx="392.30" cy="464.06" r="1.2" fill="#3b4550" stroke="#1c2228" stroke-width="0.7"/>
<circle cx="413.18" cy="467.50" r="1.2" fill="#3b4550" stroke="#1c2228" stroke-width="0.7"/>
<circle cx="441.02" cy="468.65" r="1.2" fill="#3b4550" stroke="#1c2228" stroke-width="0.7"/>
<circle cx="461.90" cy="468.65" r="1.2" fill="#3b4550" stroke="#1c2228" stroke-width="0.7"/>
<circle cx="357.50" cy="455.10" r="1.2" fill="#b99a94" stroke="#6e5450" stroke-width="0.7"/>
<circle cx="364.46" cy="464.06" r="1.2" fill="#b99a94" stroke="#6e5450" stroke-width="0.7"/>
<circle cx="378.38" cy="464.52" r="1.2" fill="#b99a94" stroke="#6e5450" stroke-width="0.7"/>
<circle cx="392.30" cy="465.90" r="1.2" fill="#b99a94" stroke="#6e5450" stroke-width="0.7"/>
<circle cx="413.18" cy="467.50" r="1.2" fill="#b99a94" stroke="#6e5450" stroke-width="0.7"/>
<circle cx="441.02" cy="468.65" r="1.2" fill="#b99a94" stroke="#6e5450" stroke-width="0.7"/>
<circle cx="461.90" cy="468.65" r="1.2" fill="#b99a94" stroke="#6e5450" stroke-width="0.7"/>
<circle cx="357.50" cy="440.17" r="1.2" fill="#2b1d36" stroke="#151018" stroke-width="0.7"/>
<circle cx="364.46" cy="458.32" r="1.2" fill="#2b1d36" stroke="#151018" stroke-width="0.7"/>
<circle cx="378.38" cy="462.91" r="1.2" fill="#2b1d36" stroke="#151018" stroke-width="0.7"/>
<circle cx="392.30" cy="465.90" r="1.2" fill="#2b1d36" stroke="#151018" stroke-width="0.7"/>
<circle cx="413.18" cy="467.50" r="1.2" fill="#2b1d36" stroke="#151018" stroke-width="0.7"/>
<circle cx="441.02" cy="468.65" r="1.2" fill="#2b1d36" stroke="#151018" stroke-width="0.7"/>
<line x1="469.00" y1="25.40" x2="481.50" y2="25.40" stroke="#4b2e5e" stroke-width="1.0"/>
<circle cx="475.3" cy="25.40" r="1.65" fill="#2b1d36" stroke="#151018" stroke-width="0.8"/>
<text x="484.60" y="27.65" font-size="6.3" text-anchor="start" font-weight="normal" fill="#3a3a3a">Patient 1</text>
<line x1="469.00" y1="35.33" x2="481.50" y2="35.33" stroke="#e0958a" stroke-width="1.0"/>
<circle cx="475.3" cy="35.33" r="1.65" fill="#b99a94" stroke="#6e5450" stroke-width="0.8"/>
<text x="484.60" y="37.58" font-size="6.3" text-anchor="start" font-weight="normal" fill="#3a3a3a">Patient 2</text>
<line x1="469.00" y1="45.26" x2="481.50" y2="45.26" stroke="#4d5866" stroke-width="1.0"/>
<circle cx="475.3" cy="45.26" r="1.65" fill="#3b4550" stroke="#1c2228" stroke-width="0.8"/>
<text x="484.60" y="47.51" font-size="6.3" text-anchor="start" font-weight="normal" fill="#3a3a3a">Patient 3</text>
<line x1="469.00" y1="55.19" x2="481.50" y2="55.19" stroke="#5cc0e8" stroke-width="1.0"/>
<circle cx="475.3" cy="55.19" r="1.65" fill="#4f98a8" stroke="#1d4550" stroke-width="0.8"/>
<text x="484.60" y="57.44" font-size="6.3" text-anchor="start" font-weight="normal" fill="#3a3a3a">Patient 4</text>
<line x1="469.00" y1="65.12" x2="481.50" y2="65.12" stroke="#2a8068" stroke-width="1.0"/>
<circle cx="475.3" cy="65.12" r="1.65" fill="#1e5248" stroke="#0d2a24" stroke-width="0.8"/>
<text x="484.60" y="67.37" font-size="6.3" text-anchor="start" font-weight="normal" fill="#3a3a3a">Patient 5</text>
<line x1="469.00" y1="75.05" x2="481.50" y2="75.05" stroke="#e8418a" stroke-width="1.0"/>
<circle cx="475.3" cy="75.05" r="1.65" fill="#b43a72" stroke="#5a1535" stroke-width="0.8"/>
<text x="484.60" y="77.30" font-size="6.3" text-anchor="start" font-weight="normal" fill="#3a3a3a">Patient 6</text>
<line x1="469.00" y1="84.98" x2="481.50" y2="84.98" stroke="#e8cc2a" stroke-width="1.0"/>
<circle cx="475.3" cy="84.98" r="1.65" fill="#d2b832" stroke="#3a3210" stroke-width="0.8"/>
<text x="484.60" y="87.23" font-size="6.3" text-anchor="start" font-weight="normal" fill="#3a3a3a">Patient 7</text>
<line x1="469.00" y1="94.91" x2="481.50" y2="94.91" stroke="#9a92dc" stroke-width="1.0"/>
<circle cx="475.3" cy="94.91" r="1.65" fill="#8a7cb4" stroke="#3a3060" stroke-width="0.8"/>
<text x="484.60" y="97.16" font-size="6.3" text-anchor="start" font-weight="normal" fill="#3a3a3a">Patient 8</text>
<line x1="469.00" y1="104.84" x2="481.50" y2="104.84" stroke="#eb9248" stroke-width="1.0"/>
<circle cx="475.3" cy="104.84" r="1.65" fill="#9a6c48" stroke="#3e2a18" stroke-width="0.8"/>
<text x="484.60" y="107.09" font-size="6.3" text-anchor="start" font-weight="normal" fill="#3a3a3a">Patient 9</text>
<line x1="469.00" y1="114.77" x2="481.50" y2="114.77" stroke="#3eaa4e" stroke-width="1.0"/>
<circle cx="475.3" cy="114.77" r="1.65" fill="#3c7c48" stroke="#173a1e" stroke-width="0.8"/>
<text x="484.60" y="117.02" font-size="6.3" text-anchor="start" font-weight="normal" fill="#3a3a3a">Patient 10</text>
<line x1="46.40" y1="529.40" x2="46.40" y2="540.20" stroke="#222" stroke-width="1.2"/>
<line x1="46.40" y1="547.60" x2="46.40" y2="603.00" stroke="#222" stroke-width="1.2"/>
<line x1="45.80" y1="603.00" x2="146.60" y2="603.00" stroke="#222" stroke-width="1.2"/>
<line x1="43.40" y1="603.00" x2="46.40" y2="603.00" stroke="#222" stroke-width="1.0"/>
<text x="40.10" y="605.35" font-size="6.7" text-anchor="end" font-weight="normal" fill="#333" textLength="3.39" lengthAdjust="spacingAndGlyphs">0</text>
<line x1="43.40" y1="592.00" x2="46.40" y2="592.00" stroke="#222" stroke-width="1.0"/>
<text x="40.10" y="594.35" font-size="6.7" text-anchor="end" font-weight="normal" fill="#333" textLength="13.57" lengthAdjust="spacingAndGlyphs">2000</text>
<line x1="43.40" y1="581.00" x2="46.40" y2="581.00" stroke="#222" stroke-width="1.0"/>
<text x="40.10" y="583.35" font-size="6.7" text-anchor="end" font-weight="normal" fill="#333" textLength="13.57" lengthAdjust="spacingAndGlyphs">4000</text>
<line x1="43.40" y1="570.00" x2="46.40" y2="570.00" stroke="#222" stroke-width="1.0"/>
<text x="40.10" y="572.35" font-size="6.7" text-anchor="end" font-weight="normal" fill="#333" textLength="13.57" lengthAdjust="spacingAndGlyphs">6000</text>
<line x1="43.40" y1="559.00" x2="46.40" y2="559.00" stroke="#222" stroke-width="1.0"/>
<text x="40.10" y="561.35" font-size="6.7" text-anchor="end" font-weight="normal" fill="#333" textLength="13.57" lengthAdjust="spacingAndGlyphs">8000</text>
<line x1="43.40" y1="548.00" x2="46.40" y2="548.00" stroke="#222" stroke-width="1.0"/>
<text x="40.10" y="550.35" font-size="6.7" text-anchor="end" font-weight="normal" fill="#333" textLength="16.96" lengthAdjust="spacingAndGlyphs">10000</text>
<line x1="43.40" y1="540.00" x2="46.40" y2="540.00" stroke="#222" stroke-width="1.0"/>
<text x="40.10" y="542.35" font-size="6.7" text-anchor="end" font-weight="normal" fill="#333" textLength="16.96" lengthAdjust="spacingAndGlyphs">70000</text>
<line x1="43.40" y1="532.50" x2="46.40" y2="532.50" stroke="#222" stroke-width="1.0"/>
<text x="40.10" y="534.85" font-size="6.7" text-anchor="end" font-weight="normal" fill="#333" textLength="16.96" lengthAdjust="spacingAndGlyphs">80000</text>
<line x1="70.70" y1="603.00" x2="70.70" y2="606.00" stroke="#222" stroke-width="1.0"/>
<text x="70.70" y="615.00" font-size="6.3" text-anchor="middle" font-weight="normal" fill="#3a3a3a">pre</text>
<line x1="120.30" y1="603.00" x2="120.30" y2="606.00" stroke="#222" stroke-width="1.0"/>
<text x="120.30" y="615.00" font-size="6.3" text-anchor="middle" font-weight="normal" fill="#3a3a3a">post</text>
<text class="yl" x="17.00" y="569.10" font-size="7.2" text-anchor="middle" fill="#2e2e2e" stroke="#2e2e2e" stroke-width="0.16" textLength="42.30" lengthAdjust="spacingAndGlyphs" transform="rotate(-90 17.00 569.10)">sIL-2R (pg/mL)</text>
<line x1="70.70" y1="536.20" x2="120.30" y2="593.50" stroke="#111" stroke-width="0.8"/>
<line x1="70.70" y1="558.50" x2="120.30" y2="597.00" stroke="#111" stroke-width="0.8"/>
<line x1="70.70" y1="565.00" x2="120.30" y2="598.50" stroke="#111" stroke-width="0.8"/>
<line x1="70.70" y1="577.00" x2="120.30" y2="595.50" stroke="#111" stroke-width="0.8"/>
<line x1="70.70" y1="581.80" x2="120.30" y2="599.00" stroke="#111" stroke-width="0.8"/>
<line x1="70.70" y1="588.50" x2="120.30" y2="600.50" stroke="#111" stroke-width="0.8"/>
<line x1="70.70" y1="590.40" x2="120.30" y2="601.00" stroke="#111" stroke-width="0.8"/>
<line x1="70.70" y1="592.00" x2="120.30" y2="600.00" stroke="#111" stroke-width="0.8"/>
<line x1="70.70" y1="600.80" x2="120.30" y2="602.00" stroke="#111" stroke-width="0.8"/>
<line x1="70.70" y1="601.50" x2="120.30" y2="602.30" stroke="#111" stroke-width="0.8"/>
<circle cx="70.70" cy="536.20" r="1.85" fill="#c4c2dc" stroke="#3c3c72" stroke-width="0.85"/>
<circle cx="70.70" cy="558.50" r="1.85" fill="#c4c2dc" stroke="#3c3c72" stroke-width="0.85"/>
<circle cx="70.70" cy="565.00" r="1.85" fill="#c4c2dc" stroke="#3c3c72" stroke-width="0.85"/>
<circle cx="70.70" cy="577.00" r="1.85" fill="#c4c2dc" stroke="#3c3c72" stroke-width="0.85"/>
<circle cx="70.70" cy="581.80" r="1.85" fill="#c4c2dc" stroke="#3c3c72" stroke-width="0.85"/>
<circle cx="70.70" cy="588.50" r="1.85" fill="#c4c2dc" stroke="#3c3c72" stroke-width="0.85"/>
<circle cx="70.70" cy="590.40" r="1.85" fill="#c4c2dc" stroke="#3c3c72" stroke-width="0.85"/>
<circle cx="70.70" cy="592.00" r="1.85" fill="#c4c2dc" stroke="#3c3c72" stroke-width="0.85"/>
<circle cx="70.70" cy="600.80" r="1.85" fill="#c4c2dc" stroke="#3c3c72" stroke-width="0.85"/>
<circle cx="70.70" cy="601.50" r="1.85" fill="#c4c2dc" stroke="#3c3c72" stroke-width="0.85"/>
<circle cx="120.30" cy="593.50" r="1.9" fill="#f3dd7a" stroke="#6a5a20" stroke-width="0.8"/>
<circle cx="120.30" cy="597.00" r="1.9" fill="#f3dd7a" stroke="#6a5a20" stroke-width="0.8"/>
<circle cx="120.30" cy="598.50" r="1.9" fill="#f3dd7a" stroke="#6a5a20" stroke-width="0.8"/>
<circle cx="120.30" cy="595.50" r="1.9" fill="#f3dd7a" stroke="#6a5a20" stroke-width="0.8"/>
<circle cx="120.30" cy="599.00" r="1.9" fill="#f3dd7a" stroke="#6a5a20" stroke-width="0.8"/>
<circle cx="120.30" cy="600.50" r="1.9" fill="#f3dd7a" stroke="#6a5a20" stroke-width="0.8"/>
<circle cx="120.30" cy="601.00" r="1.9" fill="#f3dd7a" stroke="#6a5a20" stroke-width="0.8"/>
<circle cx="120.30" cy="600.00" r="1.9" fill="#f3dd7a" stroke="#6a5a20" stroke-width="0.8"/>
<circle cx="120.30" cy="602.00" r="1.9" fill="#f3dd7a" stroke="#6a5a20" stroke-width="0.8"/>
<circle cx="120.30" cy="602.30" r="1.9" fill="#f3dd7a" stroke="#6a5a20" stroke-width="0.8"/>
<text x="90.30" y="532.50" font-size="7" text-anchor="middle" font-weight="normal" fill="#222">***</text>
<line x1="184.40" y1="529.60" x2="184.40" y2="603.00" stroke="#222" stroke-width="1.2"/>
<line x1="183.80" y1="603.00" x2="282.70" y2="603.00" stroke="#222" stroke-width="1.2"/>
<line x1="181.40" y1="603.00" x2="184.40" y2="603.00" stroke="#222" stroke-width="1.0"/>
<text x="178.70" y="605.35" font-size="6.7" text-anchor="end" font-weight="normal" fill="#333" textLength="3.39" lengthAdjust="spacingAndGlyphs">0</text>
<line x1="181.40" y1="588.90" x2="184.40" y2="588.90" stroke="#222" stroke-width="1.0"/>
<text x="178.70" y="591.25" font-size="6.7" text-anchor="end" font-weight="normal" fill="#333" textLength="6.79" lengthAdjust="spacingAndGlyphs">20</text>
<line x1="181.40" y1="574.80" x2="184.40" y2="574.80" stroke="#222" stroke-width="1.0"/>
<text x="178.70" y="577.15" font-size="6.7" text-anchor="end" font-weight="normal" fill="#333" textLength="6.79" lengthAdjust="spacingAndGlyphs">40</text>
<line x1="181.40" y1="560.60" x2="184.40" y2="560.60" stroke="#222" stroke-width="1.0"/>
<text x="178.70" y="562.95" font-size="6.7" text-anchor="end" font-weight="normal" fill="#333" textLength="6.79" lengthAdjust="spacingAndGlyphs">60</text>
<line x1="181.40" y1="546.40" x2="184.40" y2="546.40" stroke="#222" stroke-width="1.0"/>
<text x="178.70" y="548.75" font-size="6.7" text-anchor="end" font-weight="normal" fill="#333" textLength="6.79" lengthAdjust="spacingAndGlyphs">80</text>
<line x1="181.40" y1="532.20" x2="184.40" y2="532.20" stroke="#222" stroke-width="1.0"/>
<text x="178.70" y="534.55" font-size="6.7" text-anchor="end" font-weight="normal" fill="#333" textLength="10.18" lengthAdjust="spacingAndGlyphs">100</text>
<line x1="208.80" y1="603.00" x2="208.80" y2="606.00" stroke="#222" stroke-width="1.0"/>
<text x="208.80" y="615.00" font-size="6.3" text-anchor="middle" font-weight="normal" fill="#3a3a3a">pre</text>
<line x1="258.50" y1="603.00" x2="258.50" y2="606.00" stroke="#222" stroke-width="1.0"/>
<text x="258.50" y="615.00" font-size="6.3" text-anchor="middle" font-weight="normal" fill="#3a3a3a">post</text>
<text class="yl" x="163.00" y="565.15" font-size="7.2" text-anchor="middle" fill="#2e2e2e" stroke="#2e2e2e" stroke-width="0.16" textLength="54.00" lengthAdjust="spacingAndGlyphs" transform="rotate(-90 163.00 565.15)">Free IL-18 (pg/mL)</text>
<line x1="208.80" y1="540.80" x2="258.50" y2="585.00" stroke="#111" stroke-width="0.8"/>
<line x1="208.80" y1="553.90" x2="258.50" y2="590.40" stroke="#111" stroke-width="0.8"/>
<line x1="208.80" y1="556.90" x2="258.50" y2="592.20" stroke="#111" stroke-width="0.8"/>
<line x1="208.80" y1="560.40" x2="258.50" y2="590.00" stroke="#111" stroke-width="0.8"/>
<line x1="208.80" y1="582.80" x2="258.50" y2="592.00" stroke="#111" stroke-width="0.8"/>
<line x1="208.80" y1="588.00" x2="258.50" y2="595.00" stroke="#111" stroke-width="0.8"/>
<line x1="208.80" y1="592.00" x2="258.50" y2="592.50" stroke="#111" stroke-width="0.8"/>
<circle cx="208.80" cy="540.80" r="1.85" fill="#c4c2dc" stroke="#3c3c72" stroke-width="0.85"/>
<circle cx="208.80" cy="553.90" r="1.85" fill="#c4c2dc" stroke="#3c3c72" stroke-width="0.85"/>
<circle cx="208.80" cy="556.90" r="1.85" fill="#c4c2dc" stroke="#3c3c72" stroke-width="0.85"/>
<circle cx="208.80" cy="560.40" r="1.85" fill="#c4c2dc" stroke="#3c3c72" stroke-width="0.85"/>
<circle cx="208.80" cy="582.80" r="1.85" fill="#c4c2dc" stroke="#3c3c72" stroke-width="0.85"/>
<circle cx="208.80" cy="588.00" r="1.85" fill="#c4c2dc" stroke="#3c3c72" stroke-width="0.85"/>
<circle cx="208.80" cy="592.00" r="1.85" fill="#c4c2dc" stroke="#3c3c72" stroke-width="0.85"/>
<circle cx="258.50" cy="585.00" r="1.9" fill="#f3dd7a" stroke="#6a5a20" stroke-width="0.8"/>
<circle cx="258.50" cy="590.40" r="1.9" fill="#f3dd7a" stroke="#6a5a20" stroke-width="0.8"/>
<circle cx="258.50" cy="592.20" r="1.9" fill="#f3dd7a" stroke="#6a5a20" stroke-width="0.8"/>
<circle cx="258.50" cy="590.00" r="1.9" fill="#f3dd7a" stroke="#6a5a20" stroke-width="0.8"/>
<circle cx="258.50" cy="592.00" r="1.9" fill="#f3dd7a" stroke="#6a5a20" stroke-width="0.8"/>
<circle cx="258.50" cy="595.00" r="1.9" fill="#f3dd7a" stroke="#6a5a20" stroke-width="0.8"/>
<circle cx="258.50" cy="592.50" r="1.9" fill="#f3dd7a" stroke="#6a5a20" stroke-width="0.8"/>
<text x="232.60" y="532.50" font-size="7" text-anchor="middle" font-weight="normal" fill="#222">**</text>
</svg>
<div id="frame"></div>
</body></html>
